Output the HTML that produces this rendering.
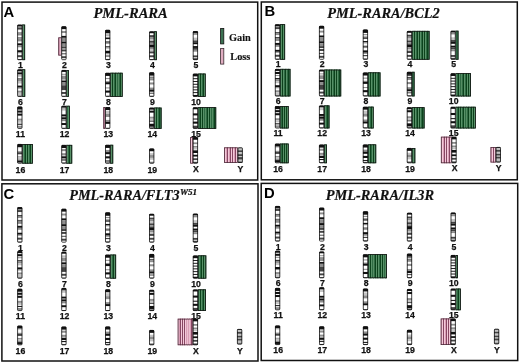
<!DOCTYPE html>
<html><head><meta charset="utf-8"><style>
html,body{margin:0;padding:0;background:#fff;}
svg{display:block;will-change:transform;}
.bd{fill:none;stroke:#111;stroke-width:1.5;}
.lt{font-family:"Liberation Sans",sans-serif;font-weight:bold;font-size:14.8px;fill:#000;}
.tt{font-family:"Liberation Serif",serif;font-weight:bold;font-style:italic;font-size:14.8px;fill:#111;stroke:#111;stroke-width:0.2px;}
.sp{font-size:8.1px;}
.lb{font-family:"Liberation Sans",sans-serif;font-weight:bold;font-size:8.7px;fill:#111;text-anchor:middle;stroke:#111;stroke-width:0.25px;}
.lg{font-family:"Liberation Serif",serif;font-weight:bold;font-size:10.3px;fill:#111;stroke:#111;stroke-width:0.15px;}
</style></head><body>
<svg width="520" height="364" viewBox="0 0 520 364">
<rect width="520" height="364" fill="#fff"/>
<rect x="2" y="2.1" width="255.7" height="177.9" class="bd"/>
<rect x="261.3" y="2" width="256" height="177.8" class="bd"/>
<rect x="1.9" y="183.8" width="256.1" height="177.2" class="bd"/>
<rect x="261.2" y="183.4" width="256.5" height="177.1" class="bd"/>
<text x="3.4" y="16.8" class="lt">A</text>
<text x="264.4" y="16" class="lt">B</text>
<text x="3.6" y="198.5" class="lt">C</text>
<text x="264" y="198" class="lt">D</text>
<text x="93.4" y="18.2" class="tt" textLength="74.4" lengthAdjust="spacingAndGlyphs">PML-RARA</text>
<text x="327.3" y="18.1" class="tt" textLength="112.4" lengthAdjust="spacingAndGlyphs">PML-RARA/BCL2</text>
<text x="69.2" y="200.2" class="tt" textLength="110.4" lengthAdjust="spacingAndGlyphs">PML-RARA/FLT3</text>
<text x="179.9" y="194.6" class="tt sp" textLength="17.2" lengthAdjust="spacingAndGlyphs">W51</text>
<text x="325.7" y="200.1" class="tt" textLength="108.4" lengthAdjust="spacingAndGlyphs">PML-RARA/IL3R</text>
<rect x="22" y="24.6" width="3.1" height="35.5" fill="#2e6b43"/>
<rect x="23" y="24.6" width="0.9" height="35.5" fill="#5e966c"/>
<rect x="22.4" y="25" width="2.3" height="34.7" fill="none" stroke="#141414" stroke-width="0.8"/>
<clipPath id="c1"><rect x="17.2" y="24.6" width="5.2" height="35.5" rx="1.0"/></clipPath>
<g clip-path="url(#c1)">
<rect x="17.2" y="24.6" width="5.2" height="35.5" fill="#fff"/>
<rect x="17.2" y="24.6" width="5.2" height="1.97" fill="#111"/>
<rect x="17.2" y="26.57" width="5.2" height="0.99" fill="#8e8e8e"/>
<rect x="17.2" y="27.56" width="5.2" height="1.97" fill="#444"/>
<rect x="17.2" y="32.49" width="5.2" height="0.99" fill="#444"/>
<rect x="17.2" y="33.48" width="5.2" height="1.97" fill="#8e8e8e"/>
<rect x="17.2" y="37.42" width="5.2" height="0.99" fill="#444"/>
<rect x="17.2" y="38.41" width="5.2" height="2.96" fill="#8e8e8e"/>
<rect x="17.2" y="43.34" width="5.2" height="1.97" fill="#111"/>
<rect x="17.2" y="45.31" width="5.2" height="1.97" fill="#8e8e8e"/>
<rect x="17.2" y="50.24" width="5.2" height="1.97" fill="#111"/>
<rect x="17.2" y="52.21" width="5.2" height="0.99" fill="#8e8e8e"/>
<rect x="17.2" y="55.17" width="5.2" height="1.97" fill="#444"/>
<rect x="17.2" y="59.11" width="5.2" height="0.99" fill="#444"/>
</g>
<rect x="17.6" y="25" width="4.4" height="34.7" rx="0.8" fill="none" stroke="#111" stroke-width="0.8"/>
<text x="20.4" y="67.9" class="lb">1</text>
<rect x="58.3" y="37.39" width="3.4" height="18.14" fill="#d99db5"/>
<rect x="60" y="37.39" width="0.9" height="18.14" fill="#f6cfdd"/>
<rect x="58.7" y="37.79" width="2.6" height="17.34" fill="none" stroke="#4a2a38" stroke-width="0.8"/>
<clipPath id="c2"><rect x="61.3" y="26.2" width="5.2" height="33.9" rx="1.0"/></clipPath>
<g clip-path="url(#c2)">
<rect x="61.3" y="26.2" width="5.2" height="33.9" fill="#fff"/>
<rect x="61.3" y="26.2" width="5.2" height="2.91" fill="#111"/>
<rect x="61.3" y="31.04" width="5.2" height="1.94" fill="#8e8e8e"/>
<rect x="61.3" y="35.89" width="5.2" height="1.94" fill="#111"/>
<rect x="61.3" y="37.82" width="5.2" height="3.87" fill="#8e8e8e"/>
<rect x="61.3" y="41.7" width="5.2" height="1.94" fill="#111"/>
<rect x="61.3" y="43.63" width="5.2" height="2.91" fill="#8e8e8e"/>
<rect x="61.3" y="46.54" width="5.2" height="1.94" fill="#444"/>
<rect x="61.3" y="49.45" width="5.2" height="1.94" fill="#444"/>
<rect x="61.3" y="53.32" width="5.2" height="0.97" fill="#444"/>
<rect x="61.3" y="56.23" width="5.2" height="1.94" fill="#444"/>
</g>
<rect x="61.7" y="26.6" width="4.4" height="33.1" rx="0.8" fill="none" stroke="#111" stroke-width="0.8"/>
<text x="64.5" y="67.9" class="lb">2</text>
<clipPath id="c3"><rect x="105.1" y="29.8" width="5.2" height="30.3" rx="1.0"/></clipPath>
<g clip-path="url(#c3)">
<rect x="105.1" y="29.8" width="5.2" height="30.3" fill="#fff"/>
<rect x="105.1" y="29.8" width="5.2" height="3.5" fill="#111"/>
<rect x="105.1" y="34.46" width="5.2" height="1.17" fill="#8e8e8e"/>
<rect x="105.1" y="36.79" width="5.2" height="1.17" fill="#8e8e8e"/>
<rect x="105.1" y="37.96" width="5.2" height="1.17" fill="#111"/>
<rect x="105.1" y="41.45" width="5.2" height="1.17" fill="#111"/>
<rect x="105.1" y="42.62" width="5.2" height="1.17" fill="#8e8e8e"/>
<rect x="105.1" y="46.12" width="5.2" height="1.17" fill="#444"/>
<rect x="105.1" y="47.28" width="5.2" height="1.17" fill="#8e8e8e"/>
<rect x="105.1" y="50.78" width="5.2" height="2.33" fill="#111"/>
<rect x="105.1" y="53.11" width="5.2" height="1.17" fill="#8e8e8e"/>
<rect x="105.1" y="55.44" width="5.2" height="1.17" fill="#444"/>
<rect x="105.1" y="58.93" width="5.2" height="1.17" fill="#444"/>
</g>
<rect x="105.5" y="30.2" width="4.4" height="29.5" rx="0.8" fill="none" stroke="#111" stroke-width="0.8"/>
<text x="108.3" y="67.9" class="lb">3</text>
<rect x="153.9" y="31.3" width="3" height="28.8" fill="#2e6b43"/>
<rect x="155" y="31.3" width="0.9" height="28.8" fill="#5e966c"/>
<rect x="154.3" y="31.7" width="2.2" height="28" fill="none" stroke="#141414" stroke-width="0.8"/>
<clipPath id="c4"><rect x="149.1" y="31.3" width="5.2" height="28.8" rx="1.0"/></clipPath>
<g clip-path="url(#c4)">
<rect x="149.1" y="31.3" width="5.2" height="28.8" fill="#fff"/>
<rect x="149.1" y="31.3" width="5.2" height="1.92" fill="#111"/>
<rect x="149.1" y="35.14" width="5.2" height="1.92" fill="#444"/>
<rect x="149.1" y="37.06" width="5.2" height="1.92" fill="#8e8e8e"/>
<rect x="149.1" y="38.98" width="5.2" height="1.92" fill="#c4c4c4"/>
<rect x="149.1" y="40.9" width="5.2" height="1.92" fill="#444"/>
<rect x="149.1" y="42.82" width="5.2" height="1.92" fill="#8e8e8e"/>
<rect x="149.1" y="44.74" width="5.2" height="2.88" fill="#111"/>
<rect x="149.1" y="47.62" width="5.2" height="1.92" fill="#8e8e8e"/>
<rect x="149.1" y="49.54" width="5.2" height="1.92" fill="#c4c4c4"/>
<rect x="149.1" y="51.46" width="5.2" height="1.92" fill="#444"/>
<rect x="149.1" y="55.3" width="5.2" height="1.92" fill="#444"/>
<rect x="149.1" y="59.14" width="5.2" height="0.96" fill="#444"/>
</g>
<rect x="149.5" y="31.7" width="4.4" height="28" rx="0.8" fill="none" stroke="#111" stroke-width="0.8"/>
<text x="152.3" y="67.9" class="lb">4</text>
<clipPath id="c5"><rect x="192.8" y="31.1" width="5.2" height="29" rx="1.0"/></clipPath>
<g clip-path="url(#c5)">
<rect x="192.8" y="31.1" width="5.2" height="29" fill="#fff"/>
<rect x="192.8" y="31.1" width="5.2" height="1.87" fill="#111"/>
<rect x="192.8" y="32.97" width="5.2" height="1.87" fill="#8e8e8e"/>
<rect x="192.8" y="37.65" width="5.2" height="2.81" fill="#c4c4c4"/>
<rect x="192.8" y="40.45" width="5.2" height="1.87" fill="#444"/>
<rect x="192.8" y="42.33" width="5.2" height="1.87" fill="#111"/>
<rect x="192.8" y="46.07" width="5.2" height="1.87" fill="#111"/>
<rect x="192.8" y="47.94" width="5.2" height="1.87" fill="#444"/>
<rect x="192.8" y="49.81" width="5.2" height="1.87" fill="#8e8e8e"/>
<rect x="192.8" y="55.42" width="5.2" height="1.87" fill="#444"/>
<rect x="192.8" y="58.23" width="5.2" height="1.87" fill="#444"/>
</g>
<rect x="193.2" y="31.5" width="4.4" height="28.2" rx="0.8" fill="none" stroke="#111" stroke-width="0.8"/>
<text x="196" y="67.9" class="lb">5</text>
<rect x="22" y="69.3" width="3.2" height="27.5" fill="#2e6b43"/>
<rect x="23" y="69.3" width="0.9" height="27.5" fill="#5e966c"/>
<rect x="22.4" y="69.7" width="2.4" height="26.7" fill="none" stroke="#141414" stroke-width="0.8"/>
<clipPath id="c6"><rect x="17.2" y="69.3" width="5.2" height="27.5" rx="1.0"/></clipPath>
<g clip-path="url(#c6)">
<rect x="17.2" y="69.3" width="5.2" height="27.5" fill="#fff"/>
<rect x="17.2" y="69.3" width="5.2" height="2.04" fill="#111"/>
<rect x="17.2" y="72.36" width="5.2" height="2.04" fill="#111"/>
<rect x="17.2" y="75.41" width="5.2" height="1.02" fill="#8e8e8e"/>
<rect x="17.2" y="78.47" width="5.2" height="1.02" fill="#111"/>
<rect x="17.2" y="79.49" width="5.2" height="2.04" fill="#8e8e8e"/>
<rect x="17.2" y="81.52" width="5.2" height="2.04" fill="#c4c4c4"/>
<rect x="17.2" y="85.6" width="5.2" height="2.04" fill="#111"/>
<rect x="17.2" y="87.63" width="5.2" height="1.02" fill="#8e8e8e"/>
<rect x="17.2" y="90.69" width="5.2" height="2.04" fill="#8e8e8e"/>
<rect x="17.2" y="92.73" width="5.2" height="3.06" fill="#c4c4c4"/>
<rect x="17.2" y="95.78" width="5.2" height="1.02" fill="#444"/>
</g>
<rect x="17.6" y="69.7" width="4.4" height="26.7" rx="0.8" fill="none" stroke="#111" stroke-width="0.8"/>
<text x="20.4" y="105.1" class="lb">6</text>
<rect x="66.1" y="70" width="2.8" height="26.8" fill="#2e6b43"/>
<rect x="67" y="70" width="0.9" height="26.8" fill="#5e966c"/>
<rect x="66.5" y="70.4" width="2" height="26" fill="none" stroke="#141414" stroke-width="0.8"/>
<clipPath id="c7"><rect x="61.3" y="70" width="5.2" height="26.8" rx="1.0"/></clipPath>
<g clip-path="url(#c7)">
<rect x="61.3" y="70" width="5.2" height="26.8" fill="#fff"/>
<rect x="61.3" y="70" width="5.2" height="1.91" fill="#111"/>
<rect x="61.3" y="73.83" width="5.2" height="0.96" fill="#8e8e8e"/>
<rect x="61.3" y="75.74" width="5.2" height="3.83" fill="#8e8e8e"/>
<rect x="61.3" y="80.53" width="5.2" height="1.91" fill="#111"/>
<rect x="61.3" y="82.44" width="5.2" height="2.87" fill="#8e8e8e"/>
<rect x="61.3" y="85.31" width="5.2" height="4.79" fill="#444"/>
<rect x="61.3" y="92.01" width="5.2" height="1.91" fill="#444"/>
<rect x="61.3" y="95.84" width="5.2" height="0.96" fill="#444"/>
</g>
<rect x="61.7" y="70.4" width="4.4" height="26" rx="0.8" fill="none" stroke="#111" stroke-width="0.8"/>
<text x="64.5" y="105.1" class="lb">7</text>
<rect x="109.9" y="72.8" width="12.8" height="24" fill="#2e6b43"/>
<rect x="111" y="72.8" width="0.9" height="24" fill="#5e966c"/>
<rect x="112" y="72.8" width="1" height="24" fill="#0c421c"/>
<rect x="113" y="72.8" width="0.9" height="24" fill="#5e966c"/>
<rect x="115" y="72.8" width="1" height="24" fill="#0c421c"/>
<rect x="116" y="72.8" width="0.9" height="24" fill="#5e966c"/>
<rect x="118" y="72.8" width="1" height="24" fill="#0c421c"/>
<rect x="118" y="72.8" width="0.9" height="24" fill="#5e966c"/>
<rect x="120" y="72.8" width="1" height="24" fill="#0c421c"/>
<rect x="121" y="72.8" width="0.9" height="24" fill="#5e966c"/>
<rect x="110.3" y="73.2" width="12" height="23.2" fill="none" stroke="#141414" stroke-width="0.8"/>
<clipPath id="c8"><rect x="105.1" y="72.8" width="5.2" height="24" rx="1.0"/></clipPath>
<g clip-path="url(#c8)">
<rect x="105.1" y="72.8" width="5.2" height="24" fill="#fff"/>
<rect x="105.1" y="72.8" width="5.2" height="3.13" fill="#111"/>
<rect x="105.1" y="78.02" width="5.2" height="1.04" fill="#8e8e8e"/>
<rect x="105.1" y="81.15" width="5.2" height="1.04" fill="#8e8e8e"/>
<rect x="105.1" y="82.19" width="5.2" height="2.09" fill="#111"/>
<rect x="105.1" y="87.41" width="5.2" height="1.04" fill="#8e8e8e"/>
<rect x="105.1" y="90.54" width="5.2" height="2.09" fill="#111"/>
<rect x="105.1" y="95.76" width="5.2" height="1.04" fill="#444"/>
</g>
<rect x="105.5" y="73.2" width="4.4" height="23.2" rx="0.8" fill="none" stroke="#111" stroke-width="0.8"/>
<text x="108.3" y="105.1" class="lb">8</text>
<clipPath id="c9"><rect x="149.1" y="72.2" width="5.2" height="24.6" rx="1.0"/></clipPath>
<g clip-path="url(#c9)">
<rect x="149.1" y="72.2" width="5.2" height="24.6" fill="#fff"/>
<rect x="149.1" y="72.2" width="5.2" height="3.07" fill="#111"/>
<rect x="149.1" y="75.28" width="5.2" height="1.02" fill="#444"/>
<rect x="149.1" y="77.33" width="5.2" height="1.02" fill="#444"/>
<rect x="149.1" y="78.35" width="5.2" height="2.05" fill="#8e8e8e"/>
<rect x="149.1" y="82.45" width="5.2" height="2.05" fill="#8e8e8e"/>
<rect x="149.1" y="87.58" width="5.2" height="2.05" fill="#8e8e8e"/>
<rect x="149.1" y="89.62" width="5.2" height="2.05" fill="#111"/>
<rect x="149.1" y="92.7" width="5.2" height="1.02" fill="#444"/>
<rect x="149.1" y="95.77" width="5.2" height="1.02" fill="#444"/>
</g>
<rect x="149.5" y="72.6" width="4.4" height="23.8" rx="0.8" fill="none" stroke="#111" stroke-width="0.8"/>
<text x="152.3" y="105.1" class="lb">9</text>
<rect x="197.6" y="73.6" width="8.1" height="23.2" fill="#2e6b43"/>
<rect x="199" y="73.6" width="0.9" height="23.2" fill="#5e966c"/>
<rect x="200" y="73.6" width="1" height="23.2" fill="#0c421c"/>
<rect x="201" y="73.6" width="0.9" height="23.2" fill="#5e966c"/>
<rect x="203" y="73.6" width="1" height="23.2" fill="#0c421c"/>
<rect x="204" y="73.6" width="0.9" height="23.2" fill="#5e966c"/>
<rect x="198" y="74" width="7.3" height="22.4" fill="none" stroke="#141414" stroke-width="0.8"/>
<clipPath id="c10"><rect x="192.8" y="73.6" width="5.2" height="23.2" rx="1.0"/></clipPath>
<g clip-path="url(#c10)">
<rect x="192.8" y="73.6" width="5.2" height="23.2" fill="#fff"/>
<rect x="192.8" y="73.6" width="5.2" height="2.78" fill="#111"/>
<rect x="192.8" y="78.24" width="5.2" height="0.93" fill="#111"/>
<rect x="192.8" y="81.02" width="5.2" height="0.93" fill="#111"/>
<rect x="192.8" y="83.81" width="5.2" height="0.93" fill="#111"/>
<rect x="192.8" y="86.59" width="5.2" height="0.93" fill="#111"/>
<rect x="192.8" y="89.38" width="5.2" height="0.93" fill="#111"/>
<rect x="192.8" y="92.16" width="5.2" height="0.93" fill="#111"/>
<rect x="192.8" y="94.94" width="5.2" height="1.86" fill="#111"/>
</g>
<rect x="193.2" y="74" width="4.4" height="22.4" rx="0.8" fill="none" stroke="#111" stroke-width="0.8"/>
<text x="196" y="105.1" class="lb">10</text>
<clipPath id="c11"><rect x="17.2" y="106.5" width="5.2" height="22.3" rx="1.0"/></clipPath>
<g clip-path="url(#c11)">
<rect x="17.2" y="106.5" width="5.2" height="22.3" fill="#fff"/>
<rect x="17.2" y="106.5" width="5.2" height="3.04" fill="#111"/>
<rect x="17.2" y="110.55" width="5.2" height="2.03" fill="#111"/>
<rect x="17.2" y="113.6" width="5.2" height="2.03" fill="#111"/>
<rect x="17.2" y="118.66" width="5.2" height="2.03" fill="#8e8e8e"/>
<rect x="17.2" y="120.69" width="5.2" height="2.03" fill="#c4c4c4"/>
<rect x="17.2" y="123.73" width="5.2" height="1.01" fill="#111"/>
<rect x="17.2" y="125.76" width="5.2" height="2.03" fill="#8e8e8e"/>
<rect x="17.2" y="127.79" width="5.2" height="1.01" fill="#c4c4c4"/>
</g>
<rect x="17.6" y="106.9" width="4.4" height="21.5" rx="0.8" fill="none" stroke="#111" stroke-width="0.8"/>
<text x="20.4" y="137.3" class="lb">11</text>
<rect x="66.1" y="105.8" width="3.7" height="23" fill="#2e6b43"/>
<rect x="68" y="105.8" width="0.9" height="23" fill="#5e966c"/>
<rect x="66.5" y="106.2" width="2.9" height="22.2" fill="none" stroke="#141414" stroke-width="0.8"/>
<clipPath id="c12"><rect x="61.3" y="105.8" width="5.2" height="23" rx="1.0"/></clipPath>
<g clip-path="url(#c12)">
<rect x="61.3" y="105.8" width="5.2" height="23" fill="#fff"/>
<rect x="61.3" y="105.8" width="5.2" height="1.92" fill="#111"/>
<rect x="61.3" y="107.72" width="5.2" height="0.96" fill="#8e8e8e"/>
<rect x="61.3" y="108.67" width="5.2" height="1.92" fill="#c4c4c4"/>
<rect x="61.3" y="114.42" width="5.2" height="1.92" fill="#111"/>
<rect x="61.3" y="116.34" width="5.2" height="0.96" fill="#8e8e8e"/>
<rect x="61.3" y="117.3" width="5.2" height="1.92" fill="#111"/>
<rect x="61.3" y="119.22" width="5.2" height="1.92" fill="#8e8e8e"/>
<rect x="61.3" y="123.05" width="5.2" height="1.92" fill="#111"/>
<rect x="61.3" y="127.84" width="5.2" height="0.96" fill="#444"/>
</g>
<rect x="61.7" y="106.2" width="4.4" height="22.2" rx="0.8" fill="none" stroke="#111" stroke-width="0.8"/>
<text x="64.5" y="137.3" class="lb">12</text>
<rect x="103.3" y="107.1" width="2.2" height="21.7" fill="#d99db5"/>
<rect x="103.7" y="107.5" width="1.4" height="20.9" fill="none" stroke="#4a2a38" stroke-width="0.8"/>
<clipPath id="c13"><rect x="105.1" y="107.1" width="5.2" height="21.7" rx="1.0"/></clipPath>
<g clip-path="url(#c13)">
<rect x="105.1" y="107.1" width="5.2" height="21.7" fill="#fff"/>
<rect x="105.1" y="107.1" width="5.2" height="2.96" fill="#111"/>
<rect x="105.1" y="111.05" width="5.2" height="2.96" fill="#c4c4c4"/>
<rect x="105.1" y="114" width="5.2" height="2.96" fill="#8e8e8e"/>
<rect x="105.1" y="119.92" width="5.2" height="1.97" fill="#8e8e8e"/>
<rect x="105.1" y="121.9" width="5.2" height="1.97" fill="#111"/>
<rect x="105.1" y="127.81" width="5.2" height="0.99" fill="#444"/>
</g>
<rect x="105.5" y="107.5" width="4.4" height="20.9" rx="0.8" fill="none" stroke="#111" stroke-width="0.8"/>
<text x="108.3" y="137.3" class="lb">13</text>
<rect x="153.9" y="107.6" width="7.7" height="21.2" fill="#2e6b43"/>
<rect x="155" y="107.6" width="0.9" height="21.2" fill="#5e966c"/>
<rect x="156" y="107.6" width="1" height="21.2" fill="#0c421c"/>
<rect x="157" y="107.6" width="0.9" height="21.2" fill="#5e966c"/>
<rect x="159" y="107.6" width="1" height="21.2" fill="#0c421c"/>
<rect x="154.3" y="108" width="6.9" height="20.4" fill="none" stroke="#141414" stroke-width="0.8"/>
<clipPath id="c14"><rect x="149.1" y="107.6" width="5.2" height="21.2" rx="1.0"/></clipPath>
<g clip-path="url(#c14)">
<rect x="149.1" y="107.6" width="5.2" height="21.2" fill="#fff"/>
<rect x="149.1" y="107.6" width="5.2" height="2.02" fill="#111"/>
<rect x="149.1" y="110.63" width="5.2" height="2.02" fill="#111"/>
<rect x="149.1" y="116.69" width="5.2" height="2.02" fill="#8e8e8e"/>
<rect x="149.1" y="118.7" width="5.2" height="2.02" fill="#c4c4c4"/>
<rect x="149.1" y="120.72" width="5.2" height="1.01" fill="#444"/>
<rect x="149.1" y="123.75" width="5.2" height="3.03" fill="#111"/>
<rect x="149.1" y="126.78" width="5.2" height="1.01" fill="#8e8e8e"/>
<rect x="149.1" y="127.79" width="5.2" height="1.01" fill="#444"/>
</g>
<rect x="149.5" y="108" width="4.4" height="20.4" rx="0.8" fill="none" stroke="#111" stroke-width="0.8"/>
<text x="152.3" y="137.3" class="lb">14</text>
<rect x="197.6" y="107.2" width="18.6" height="21.6" fill="#2e6b43"/>
<rect x="198" y="107.2" width="0.9" height="21.6" fill="#5e966c"/>
<rect x="200" y="107.2" width="1" height="21.6" fill="#0c421c"/>
<rect x="201" y="107.2" width="0.9" height="21.6" fill="#5e966c"/>
<rect x="202" y="107.2" width="1" height="21.6" fill="#0c421c"/>
<rect x="203" y="107.2" width="0.9" height="21.6" fill="#5e966c"/>
<rect x="205" y="107.2" width="1" height="21.6" fill="#0c421c"/>
<rect x="205" y="107.2" width="0.9" height="21.6" fill="#5e966c"/>
<rect x="207" y="107.2" width="1" height="21.6" fill="#0c421c"/>
<rect x="208" y="107.2" width="0.9" height="21.6" fill="#5e966c"/>
<rect x="209" y="107.2" width="1" height="21.6" fill="#0c421c"/>
<rect x="210" y="107.2" width="0.9" height="21.6" fill="#5e966c"/>
<rect x="212" y="107.2" width="1" height="21.6" fill="#0c421c"/>
<rect x="212" y="107.2" width="0.9" height="21.6" fill="#5e966c"/>
<rect x="214" y="107.2" width="1" height="21.6" fill="#0c421c"/>
<rect x="198" y="107.6" width="17.8" height="20.8" fill="none" stroke="#141414" stroke-width="0.8"/>
<clipPath id="c15"><rect x="192.8" y="107.2" width="5.2" height="21.6" rx="1.0"/></clipPath>
<g clip-path="url(#c15)">
<rect x="192.8" y="107.2" width="5.2" height="21.6" fill="#fff"/>
<rect x="192.8" y="107.2" width="5.2" height="2.06" fill="#111"/>
<rect x="192.8" y="113.37" width="5.2" height="2.06" fill="#111"/>
<rect x="192.8" y="118.51" width="5.2" height="1.03" fill="#111"/>
<rect x="192.8" y="121.6" width="5.2" height="2.06" fill="#111"/>
<rect x="192.8" y="125.71" width="5.2" height="3.09" fill="#444"/>
</g>
<rect x="193.2" y="107.6" width="4.4" height="20.8" rx="0.8" fill="none" stroke="#111" stroke-width="0.8"/>
<text x="196" y="137.3" class="lb">15</text>
<rect x="22" y="144" width="10.9" height="19.6" fill="#2e6b43"/>
<rect x="23" y="144" width="0.9" height="19.6" fill="#5e966c"/>
<rect x="25" y="144" width="1" height="19.6" fill="#0c421c"/>
<rect x="26" y="144" width="0.9" height="19.6" fill="#5e966c"/>
<rect x="27" y="144" width="1" height="19.6" fill="#0c421c"/>
<rect x="28" y="144" width="0.9" height="19.6" fill="#5e966c"/>
<rect x="30" y="144" width="1" height="19.6" fill="#0c421c"/>
<rect x="31" y="144" width="0.9" height="19.6" fill="#5e966c"/>
<rect x="22.4" y="144.4" width="10.1" height="18.8" fill="none" stroke="#141414" stroke-width="0.8"/>
<clipPath id="c16"><rect x="17.2" y="144" width="5.2" height="19.6" rx="1.0"/></clipPath>
<g clip-path="url(#c16)">
<rect x="17.2" y="144" width="5.2" height="19.6" fill="#fff"/>
<rect x="17.2" y="144" width="5.2" height="3.09" fill="#111"/>
<rect x="17.2" y="147.09" width="5.2" height="1.03" fill="#c4c4c4"/>
<rect x="17.2" y="151.22" width="5.2" height="1.03" fill="#8e8e8e"/>
<rect x="17.2" y="152.25" width="5.2" height="2.06" fill="#444"/>
<rect x="17.2" y="156.38" width="5.2" height="1.03" fill="#8e8e8e"/>
<rect x="17.2" y="157.41" width="5.2" height="2.06" fill="#c4c4c4"/>
<rect x="17.2" y="159.47" width="5.2" height="1.03" fill="#8e8e8e"/>
<rect x="17.2" y="160.51" width="5.2" height="2.06" fill="#111"/>
<rect x="17.2" y="162.57" width="5.2" height="1.03" fill="#8e8e8e"/>
</g>
<rect x="17.6" y="144.4" width="4.4" height="18.8" rx="0.8" fill="none" stroke="#111" stroke-width="0.8"/>
<text x="20.4" y="172.8" class="lb">16</text>
<rect x="66.1" y="144.9" width="6.1" height="18.7" fill="#2e6b43"/>
<rect x="67" y="144.9" width="0.9" height="18.7" fill="#5e966c"/>
<rect x="69" y="144.9" width="1" height="18.7" fill="#0c421c"/>
<rect x="70" y="144.9" width="0.9" height="18.7" fill="#5e966c"/>
<rect x="66.5" y="145.3" width="5.3" height="17.9" fill="none" stroke="#141414" stroke-width="0.8"/>
<clipPath id="c17"><rect x="61.3" y="144.9" width="5.2" height="18.7" rx="1.0"/></clipPath>
<g clip-path="url(#c17)">
<rect x="61.3" y="144.9" width="5.2" height="18.7" fill="#fff"/>
<rect x="61.3" y="144.9" width="5.2" height="3.12" fill="#111"/>
<rect x="61.3" y="149.06" width="5.2" height="2.08" fill="#8e8e8e"/>
<rect x="61.3" y="153.21" width="5.2" height="2.08" fill="#8e8e8e"/>
<rect x="61.3" y="155.29" width="5.2" height="1.04" fill="#c4c4c4"/>
<rect x="61.3" y="156.33" width="5.2" height="2.08" fill="#111"/>
<rect x="61.3" y="159.44" width="5.2" height="1.04" fill="#111"/>
<rect x="61.3" y="162.56" width="5.2" height="1.04" fill="#444"/>
</g>
<rect x="61.7" y="145.3" width="4.4" height="17.9" rx="0.8" fill="none" stroke="#111" stroke-width="0.8"/>
<text x="64.5" y="172.8" class="lb">17</text>
<rect x="109.9" y="144.8" width="3.3" height="18.8" fill="#2e6b43"/>
<rect x="111" y="144.8" width="0.9" height="18.8" fill="#5e966c"/>
<rect x="110.3" y="145.2" width="2.5" height="18" fill="none" stroke="#141414" stroke-width="0.8"/>
<clipPath id="c18"><rect x="105.1" y="144.8" width="5.2" height="18.8" rx="1.0"/></clipPath>
<g clip-path="url(#c18)">
<rect x="105.1" y="144.8" width="5.2" height="18.8" fill="#fff"/>
<rect x="105.1" y="144.8" width="5.2" height="3.13" fill="#111"/>
<rect x="105.1" y="150.02" width="5.2" height="2.09" fill="#8e8e8e"/>
<rect x="105.1" y="152.11" width="5.2" height="2.09" fill="#111"/>
<rect x="105.1" y="156.29" width="5.2" height="2.09" fill="#111"/>
<rect x="105.1" y="160.47" width="5.2" height="1.04" fill="#111"/>
<rect x="105.1" y="162.56" width="5.2" height="1.04" fill="#444"/>
</g>
<rect x="105.5" y="145.2" width="4.4" height="18" rx="0.8" fill="none" stroke="#111" stroke-width="0.8"/>
<text x="108.3" y="172.8" class="lb">18</text>
<clipPath id="c19"><rect x="149.1" y="148.4" width="5.2" height="15.2" rx="1.0"/></clipPath>
<g clip-path="url(#c19)">
<rect x="149.1" y="148.4" width="5.2" height="15.2" fill="#fff"/>
<rect x="149.1" y="148.4" width="5.2" height="2.85" fill="#111"/>
<rect x="149.1" y="153.15" width="5.2" height="1.9" fill="#c4c4c4"/>
<rect x="149.1" y="155.05" width="5.2" height="2.85" fill="#8e8e8e"/>
<rect x="149.1" y="157.9" width="5.2" height="1.9" fill="#c4c4c4"/>
<rect x="149.1" y="161.7" width="5.2" height="0.95" fill="#8e8e8e"/>
<rect x="149.1" y="162.65" width="5.2" height="0.95" fill="#444"/>
</g>
<rect x="149.5" y="148.8" width="4.4" height="14.4" rx="0.8" fill="none" stroke="#111" stroke-width="0.8"/>
<text x="152.3" y="172.8" class="lb">19</text>
<rect x="190.2" y="137.1" width="3" height="26.5" fill="#d99db5"/>
<rect x="191" y="137.1" width="0.9" height="26.5" fill="#f6cfdd"/>
<rect x="190.6" y="137.5" width="2.2" height="25.7" fill="none" stroke="#4a2a38" stroke-width="0.8"/>
<clipPath id="c20"><rect x="192.8" y="137.1" width="5.2" height="26.5" rx="1.0"/></clipPath>
<g clip-path="url(#c20)">
<rect x="192.8" y="137.1" width="5.2" height="26.5" fill="#fff"/>
<rect x="192.8" y="137.1" width="5.2" height="2.65" fill="#111"/>
<rect x="192.8" y="142.4" width="5.2" height="1.77" fill="#8e8e8e"/>
<rect x="192.8" y="145.93" width="5.2" height="1.77" fill="#8e8e8e"/>
<rect x="192.8" y="147.7" width="5.2" height="1.77" fill="#c4c4c4"/>
<rect x="192.8" y="150.35" width="5.2" height="2.65" fill="#111"/>
<rect x="192.8" y="154.77" width="5.2" height="1.77" fill="#111"/>
<rect x="192.8" y="158.3" width="5.2" height="1.77" fill="#444"/>
<rect x="192.8" y="161.83" width="5.2" height="1.77" fill="#444"/>
</g>
<rect x="193.2" y="137.5" width="4.4" height="25.7" rx="0.8" fill="none" stroke="#111" stroke-width="0.8"/>
<text x="196" y="172.2" class="lb">X</text>
<rect x="224" y="147.4" width="14" height="15.5" fill="#d99db5"/>
<rect x="225" y="147.4" width="0.9" height="15.5" fill="#f6cfdd"/>
<rect x="227" y="147.4" width="1" height="15.5" fill="#874763"/>
<rect x="228" y="147.4" width="0.9" height="15.5" fill="#f6cfdd"/>
<rect x="230" y="147.4" width="1" height="15.5" fill="#874763"/>
<rect x="231" y="147.4" width="0.9" height="15.5" fill="#f6cfdd"/>
<rect x="232" y="147.4" width="1" height="15.5" fill="#874763"/>
<rect x="233" y="147.4" width="0.9" height="15.5" fill="#f6cfdd"/>
<rect x="235" y="147.4" width="1" height="15.5" fill="#874763"/>
<rect x="236" y="147.4" width="0.9" height="15.5" fill="#f6cfdd"/>
<rect x="224.4" y="147.8" width="13.2" height="14.7" fill="none" stroke="#4a2a38" stroke-width="0.8"/>
<clipPath id="c21"><rect x="237.6" y="147.4" width="5.2" height="15.5" rx="1.0"/></clipPath>
<g clip-path="url(#c21)">
<rect x="237.6" y="147.4" width="5.2" height="15.5" fill="#fff"/>
<rect x="237.6" y="147.4" width="5.2" height="0.97" fill="#444"/>
<rect x="237.6" y="148.37" width="5.2" height="1.94" fill="#c4c4c4"/>
<rect x="237.6" y="150.31" width="5.2" height="1.94" fill="#444"/>
<rect x="237.6" y="152.24" width="5.2" height="1.94" fill="#c4c4c4"/>
<rect x="237.6" y="154.18" width="5.2" height="1.94" fill="#444"/>
<rect x="237.6" y="156.12" width="5.2" height="0.97" fill="#c4c4c4"/>
<rect x="237.6" y="157.09" width="5.2" height="1.94" fill="#444"/>
<rect x="237.6" y="159.03" width="5.2" height="0.97" fill="#8e8e8e"/>
<rect x="237.6" y="159.99" width="5.2" height="0.97" fill="#c4c4c4"/>
<rect x="237.6" y="160.96" width="5.2" height="0.97" fill="#8e8e8e"/>
<rect x="237.6" y="161.93" width="5.2" height="0.97" fill="#444"/>
</g>
<rect x="238" y="147.8" width="4.4" height="14.7" rx="0.8" fill="none" stroke="#111" stroke-width="0.8"/>
<text x="240.5" y="172.2" class="lb">Y</text>
<rect x="279.7" y="24.2" width="5.4" height="35.5" fill="#2e6b43"/>
<rect x="281" y="24.2" width="0.9" height="35.5" fill="#5e966c"/>
<rect x="282" y="24.2" width="1" height="35.5" fill="#0c421c"/>
<rect x="283" y="24.2" width="0.9" height="35.5" fill="#5e966c"/>
<rect x="280.1" y="24.6" width="4.6" height="34.7" fill="none" stroke="#141414" stroke-width="0.8"/>
<clipPath id="c22"><rect x="274.9" y="24.2" width="5.2" height="35.5" rx="1.0"/></clipPath>
<g clip-path="url(#c22)">
<rect x="274.9" y="24.2" width="5.2" height="35.5" fill="#fff"/>
<rect x="274.9" y="24.2" width="5.2" height="1.97" fill="#111"/>
<rect x="274.9" y="26.17" width="5.2" height="0.99" fill="#8e8e8e"/>
<rect x="274.9" y="27.16" width="5.2" height="1.97" fill="#444"/>
<rect x="274.9" y="32.09" width="5.2" height="0.99" fill="#444"/>
<rect x="274.9" y="33.08" width="5.2" height="1.97" fill="#8e8e8e"/>
<rect x="274.9" y="37.02" width="5.2" height="0.99" fill="#444"/>
<rect x="274.9" y="38.01" width="5.2" height="2.96" fill="#8e8e8e"/>
<rect x="274.9" y="42.94" width="5.2" height="1.97" fill="#111"/>
<rect x="274.9" y="44.91" width="5.2" height="1.97" fill="#8e8e8e"/>
<rect x="274.9" y="49.84" width="5.2" height="1.97" fill="#111"/>
<rect x="274.9" y="51.81" width="5.2" height="0.99" fill="#8e8e8e"/>
<rect x="274.9" y="54.77" width="5.2" height="1.97" fill="#444"/>
<rect x="274.9" y="58.71" width="5.2" height="0.99" fill="#444"/>
</g>
<rect x="275.3" y="24.6" width="4.4" height="34.7" rx="0.8" fill="none" stroke="#111" stroke-width="0.8"/>
<text x="278.1" y="67.2" class="lb">1</text>
<clipPath id="c23"><rect x="319" y="25.8" width="5.2" height="33.9" rx="1.0"/></clipPath>
<g clip-path="url(#c23)">
<rect x="319" y="25.8" width="5.2" height="33.9" fill="#fff"/>
<rect x="319" y="25.8" width="5.2" height="2.91" fill="#111"/>
<rect x="319" y="30.64" width="5.2" height="1.94" fill="#8e8e8e"/>
<rect x="319" y="35.49" width="5.2" height="1.94" fill="#111"/>
<rect x="319" y="37.42" width="5.2" height="3.87" fill="#8e8e8e"/>
<rect x="319" y="41.3" width="5.2" height="1.94" fill="#111"/>
<rect x="319" y="43.23" width="5.2" height="2.91" fill="#8e8e8e"/>
<rect x="319" y="46.14" width="5.2" height="1.94" fill="#444"/>
<rect x="319" y="49.05" width="5.2" height="1.94" fill="#444"/>
<rect x="319" y="52.92" width="5.2" height="0.97" fill="#444"/>
<rect x="319" y="55.83" width="5.2" height="1.94" fill="#444"/>
</g>
<rect x="319.4" y="26.2" width="4.4" height="33.1" rx="0.8" fill="none" stroke="#111" stroke-width="0.8"/>
<text x="322.2" y="67.2" class="lb">2</text>
<clipPath id="c24"><rect x="362.8" y="29.4" width="5.2" height="30.3" rx="1.0"/></clipPath>
<g clip-path="url(#c24)">
<rect x="362.8" y="29.4" width="5.2" height="30.3" fill="#fff"/>
<rect x="362.8" y="29.4" width="5.2" height="3.5" fill="#111"/>
<rect x="362.8" y="34.06" width="5.2" height="1.17" fill="#8e8e8e"/>
<rect x="362.8" y="36.39" width="5.2" height="1.17" fill="#8e8e8e"/>
<rect x="362.8" y="37.56" width="5.2" height="1.17" fill="#111"/>
<rect x="362.8" y="41.05" width="5.2" height="1.17" fill="#111"/>
<rect x="362.8" y="42.22" width="5.2" height="1.17" fill="#8e8e8e"/>
<rect x="362.8" y="45.72" width="5.2" height="1.17" fill="#444"/>
<rect x="362.8" y="46.88" width="5.2" height="1.17" fill="#8e8e8e"/>
<rect x="362.8" y="50.38" width="5.2" height="2.33" fill="#111"/>
<rect x="362.8" y="52.71" width="5.2" height="1.17" fill="#8e8e8e"/>
<rect x="362.8" y="55.04" width="5.2" height="1.17" fill="#444"/>
<rect x="362.8" y="58.53" width="5.2" height="1.17" fill="#444"/>
</g>
<rect x="363.2" y="29.8" width="4.4" height="29.5" rx="0.8" fill="none" stroke="#111" stroke-width="0.8"/>
<text x="366" y="67.2" class="lb">3</text>
<rect x="411.6" y="30.9" width="18" height="28.8" fill="#2e6b43"/>
<rect x="413" y="30.9" width="0.9" height="28.8" fill="#5e966c"/>
<rect x="414" y="30.9" width="1" height="28.8" fill="#0c421c"/>
<rect x="415" y="30.9" width="0.9" height="28.8" fill="#5e966c"/>
<rect x="417" y="30.9" width="1" height="28.8" fill="#0c421c"/>
<rect x="418" y="30.9" width="0.9" height="28.8" fill="#5e966c"/>
<rect x="419" y="30.9" width="1" height="28.8" fill="#0c421c"/>
<rect x="420" y="30.9" width="0.9" height="28.8" fill="#5e966c"/>
<rect x="422" y="30.9" width="1" height="28.8" fill="#0c421c"/>
<rect x="423" y="30.9" width="0.9" height="28.8" fill="#5e966c"/>
<rect x="424" y="30.9" width="1" height="28.8" fill="#0c421c"/>
<rect x="425" y="30.9" width="0.9" height="28.8" fill="#5e966c"/>
<rect x="427" y="30.9" width="1" height="28.8" fill="#0c421c"/>
<rect x="412" y="31.3" width="17.2" height="28" fill="none" stroke="#141414" stroke-width="0.8"/>
<clipPath id="c25"><rect x="406.8" y="30.9" width="5.2" height="28.8" rx="1.0"/></clipPath>
<g clip-path="url(#c25)">
<rect x="406.8" y="30.9" width="5.2" height="28.8" fill="#fff"/>
<rect x="406.8" y="30.9" width="5.2" height="1.92" fill="#111"/>
<rect x="406.8" y="34.74" width="5.2" height="1.92" fill="#444"/>
<rect x="406.8" y="36.66" width="5.2" height="1.92" fill="#8e8e8e"/>
<rect x="406.8" y="38.58" width="5.2" height="1.92" fill="#c4c4c4"/>
<rect x="406.8" y="40.5" width="5.2" height="1.92" fill="#444"/>
<rect x="406.8" y="42.42" width="5.2" height="1.92" fill="#8e8e8e"/>
<rect x="406.8" y="44.34" width="5.2" height="2.88" fill="#111"/>
<rect x="406.8" y="47.22" width="5.2" height="1.92" fill="#8e8e8e"/>
<rect x="406.8" y="49.14" width="5.2" height="1.92" fill="#c4c4c4"/>
<rect x="406.8" y="51.06" width="5.2" height="1.92" fill="#444"/>
<rect x="406.8" y="54.9" width="5.2" height="1.92" fill="#444"/>
<rect x="406.8" y="58.74" width="5.2" height="0.96" fill="#444"/>
</g>
<rect x="407.2" y="31.3" width="4.4" height="28" rx="0.8" fill="none" stroke="#111" stroke-width="0.8"/>
<text x="410" y="67.2" class="lb">4</text>
<rect x="455.3" y="30.7" width="3.2" height="29" fill="#2e6b43"/>
<rect x="455.7" y="31.1" width="2.4" height="28.2" fill="none" stroke="#141414" stroke-width="0.8"/>
<clipPath id="c26"><rect x="450.5" y="30.7" width="5.2" height="29" rx="1.0"/></clipPath>
<g clip-path="url(#c26)">
<rect x="450.5" y="30.7" width="5.2" height="29" fill="#fff"/>
<rect x="450.5" y="30.7" width="5.2" height="1.87" fill="#111"/>
<rect x="450.5" y="32.57" width="5.2" height="1.87" fill="#8e8e8e"/>
<rect x="450.5" y="37.25" width="5.2" height="2.81" fill="#c4c4c4"/>
<rect x="450.5" y="40.05" width="5.2" height="1.87" fill="#444"/>
<rect x="450.5" y="41.93" width="5.2" height="1.87" fill="#111"/>
<rect x="450.5" y="45.67" width="5.2" height="1.87" fill="#111"/>
<rect x="450.5" y="47.54" width="5.2" height="1.87" fill="#444"/>
<rect x="450.5" y="49.41" width="5.2" height="1.87" fill="#8e8e8e"/>
<rect x="450.5" y="55.02" width="5.2" height="1.87" fill="#444"/>
<rect x="450.5" y="57.83" width="5.2" height="1.87" fill="#444"/>
</g>
<rect x="450.9" y="31.1" width="4.4" height="28.2" rx="0.8" fill="none" stroke="#111" stroke-width="0.8"/>
<text x="453.7" y="67.2" class="lb">5</text>
<rect x="279.7" y="68.9" width="10.8" height="27.5" fill="#2e6b43"/>
<rect x="281" y="68.9" width="0.9" height="27.5" fill="#5e966c"/>
<rect x="282" y="68.9" width="1" height="27.5" fill="#0c421c"/>
<rect x="283" y="68.9" width="0.9" height="27.5" fill="#5e966c"/>
<rect x="285" y="68.9" width="1" height="27.5" fill="#0c421c"/>
<rect x="286" y="68.9" width="0.9" height="27.5" fill="#5e966c"/>
<rect x="288" y="68.9" width="1" height="27.5" fill="#0c421c"/>
<rect x="280.1" y="69.3" width="10" height="26.7" fill="none" stroke="#141414" stroke-width="0.8"/>
<clipPath id="c27"><rect x="274.9" y="68.9" width="5.2" height="27.5" rx="1.0"/></clipPath>
<g clip-path="url(#c27)">
<rect x="274.9" y="68.9" width="5.2" height="27.5" fill="#fff"/>
<rect x="274.9" y="68.9" width="5.2" height="2.04" fill="#111"/>
<rect x="274.9" y="71.96" width="5.2" height="2.04" fill="#111"/>
<rect x="274.9" y="75.01" width="5.2" height="1.02" fill="#8e8e8e"/>
<rect x="274.9" y="78.07" width="5.2" height="1.02" fill="#111"/>
<rect x="274.9" y="79.09" width="5.2" height="2.04" fill="#8e8e8e"/>
<rect x="274.9" y="81.12" width="5.2" height="2.04" fill="#c4c4c4"/>
<rect x="274.9" y="85.2" width="5.2" height="2.04" fill="#111"/>
<rect x="274.9" y="87.23" width="5.2" height="1.02" fill="#8e8e8e"/>
<rect x="274.9" y="90.29" width="5.2" height="2.04" fill="#8e8e8e"/>
<rect x="274.9" y="92.33" width="5.2" height="3.06" fill="#c4c4c4"/>
<rect x="274.9" y="95.38" width="5.2" height="1.02" fill="#444"/>
</g>
<rect x="275.3" y="69.3" width="4.4" height="26.7" rx="0.8" fill="none" stroke="#111" stroke-width="0.8"/>
<text x="278.1" y="103.8" class="lb">6</text>
<rect x="323.8" y="69.6" width="17.4" height="26.8" fill="#2e6b43"/>
<rect x="325" y="69.6" width="0.9" height="26.8" fill="#5e966c"/>
<rect x="326" y="69.6" width="1" height="26.8" fill="#0c421c"/>
<rect x="327" y="69.6" width="0.9" height="26.8" fill="#5e966c"/>
<rect x="329" y="69.6" width="1" height="26.8" fill="#0c421c"/>
<rect x="330" y="69.6" width="0.9" height="26.8" fill="#5e966c"/>
<rect x="331" y="69.6" width="1" height="26.8" fill="#0c421c"/>
<rect x="332" y="69.6" width="0.9" height="26.8" fill="#5e966c"/>
<rect x="334" y="69.6" width="1" height="26.8" fill="#0c421c"/>
<rect x="335" y="69.6" width="0.9" height="26.8" fill="#5e966c"/>
<rect x="336" y="69.6" width="1" height="26.8" fill="#0c421c"/>
<rect x="337" y="69.6" width="0.9" height="26.8" fill="#5e966c"/>
<rect x="339" y="69.6" width="1" height="26.8" fill="#0c421c"/>
<rect x="324.2" y="70" width="16.6" height="26" fill="none" stroke="#141414" stroke-width="0.8"/>
<clipPath id="c28"><rect x="319" y="69.6" width="5.2" height="26.8" rx="1.0"/></clipPath>
<g clip-path="url(#c28)">
<rect x="319" y="69.6" width="5.2" height="26.8" fill="#fff"/>
<rect x="319" y="69.6" width="5.2" height="1.91" fill="#111"/>
<rect x="319" y="73.43" width="5.2" height="0.96" fill="#8e8e8e"/>
<rect x="319" y="75.34" width="5.2" height="3.83" fill="#8e8e8e"/>
<rect x="319" y="80.13" width="5.2" height="1.91" fill="#111"/>
<rect x="319" y="82.04" width="5.2" height="2.87" fill="#8e8e8e"/>
<rect x="319" y="84.91" width="5.2" height="4.79" fill="#444"/>
<rect x="319" y="91.61" width="5.2" height="1.91" fill="#444"/>
<rect x="319" y="95.44" width="5.2" height="0.96" fill="#444"/>
</g>
<rect x="319.4" y="70" width="4.4" height="26" rx="0.8" fill="none" stroke="#111" stroke-width="0.8"/>
<text x="322.2" y="103.8" class="lb">7</text>
<rect x="367.6" y="72.4" width="12.9" height="24" fill="#2e6b43"/>
<rect x="369" y="72.4" width="0.9" height="24" fill="#5e966c"/>
<rect x="370" y="72.4" width="1" height="24" fill="#0c421c"/>
<rect x="371" y="72.4" width="0.9" height="24" fill="#5e966c"/>
<rect x="373" y="72.4" width="1" height="24" fill="#0c421c"/>
<rect x="374" y="72.4" width="0.9" height="24" fill="#5e966c"/>
<rect x="375" y="72.4" width="1" height="24" fill="#0c421c"/>
<rect x="376" y="72.4" width="0.9" height="24" fill="#5e966c"/>
<rect x="378" y="72.4" width="1" height="24" fill="#0c421c"/>
<rect x="368" y="72.8" width="12.1" height="23.2" fill="none" stroke="#141414" stroke-width="0.8"/>
<clipPath id="c29"><rect x="362.8" y="72.4" width="5.2" height="24" rx="1.0"/></clipPath>
<g clip-path="url(#c29)">
<rect x="362.8" y="72.4" width="5.2" height="24" fill="#fff"/>
<rect x="362.8" y="72.4" width="5.2" height="3.13" fill="#111"/>
<rect x="362.8" y="77.62" width="5.2" height="1.04" fill="#8e8e8e"/>
<rect x="362.8" y="80.75" width="5.2" height="1.04" fill="#8e8e8e"/>
<rect x="362.8" y="81.79" width="5.2" height="2.09" fill="#111"/>
<rect x="362.8" y="87.01" width="5.2" height="1.04" fill="#8e8e8e"/>
<rect x="362.8" y="90.14" width="5.2" height="2.09" fill="#111"/>
<rect x="362.8" y="95.36" width="5.2" height="1.04" fill="#444"/>
</g>
<rect x="363.2" y="72.8" width="4.4" height="23.2" rx="0.8" fill="none" stroke="#111" stroke-width="0.8"/>
<text x="366" y="103.8" class="lb">8</text>
<rect x="411.6" y="71.8" width="3" height="24.6" fill="#2e6b43"/>
<rect x="412" y="72.2" width="2.2" height="23.8" fill="none" stroke="#141414" stroke-width="0.8"/>
<clipPath id="c30"><rect x="406.8" y="71.8" width="5.2" height="24.6" rx="1.0"/></clipPath>
<g clip-path="url(#c30)">
<rect x="406.8" y="71.8" width="5.2" height="24.6" fill="#fff"/>
<rect x="406.8" y="71.8" width="5.2" height="3.07" fill="#111"/>
<rect x="406.8" y="74.88" width="5.2" height="1.02" fill="#444"/>
<rect x="406.8" y="76.92" width="5.2" height="1.02" fill="#444"/>
<rect x="406.8" y="77.95" width="5.2" height="2.05" fill="#8e8e8e"/>
<rect x="406.8" y="82.05" width="5.2" height="2.05" fill="#8e8e8e"/>
<rect x="406.8" y="87.17" width="5.2" height="2.05" fill="#8e8e8e"/>
<rect x="406.8" y="89.22" width="5.2" height="2.05" fill="#111"/>
<rect x="406.8" y="92.3" width="5.2" height="1.02" fill="#444"/>
<rect x="406.8" y="95.37" width="5.2" height="1.02" fill="#444"/>
</g>
<rect x="407.2" y="72.2" width="4.4" height="23.8" rx="0.8" fill="none" stroke="#111" stroke-width="0.8"/>
<text x="410" y="103.8" class="lb">9</text>
<rect x="455.3" y="73.2" width="15.7" height="23.2" fill="#2e6b43"/>
<rect x="456" y="73.2" width="0.9" height="23.2" fill="#5e966c"/>
<rect x="458" y="73.2" width="1" height="23.2" fill="#0c421c"/>
<rect x="459" y="73.2" width="0.9" height="23.2" fill="#5e966c"/>
<rect x="461" y="73.2" width="1" height="23.2" fill="#0c421c"/>
<rect x="461" y="73.2" width="0.9" height="23.2" fill="#5e966c"/>
<rect x="463" y="73.2" width="1" height="23.2" fill="#0c421c"/>
<rect x="464" y="73.2" width="0.9" height="23.2" fill="#5e966c"/>
<rect x="466" y="73.2" width="1" height="23.2" fill="#0c421c"/>
<rect x="467" y="73.2" width="0.9" height="23.2" fill="#5e966c"/>
<rect x="468" y="73.2" width="1" height="23.2" fill="#0c421c"/>
<rect x="469" y="73.2" width="0.9" height="23.2" fill="#5e966c"/>
<rect x="455.7" y="73.6" width="14.9" height="22.4" fill="none" stroke="#141414" stroke-width="0.8"/>
<clipPath id="c31"><rect x="450.5" y="73.2" width="5.2" height="23.2" rx="1.0"/></clipPath>
<g clip-path="url(#c31)">
<rect x="450.5" y="73.2" width="5.2" height="23.2" fill="#fff"/>
<rect x="450.5" y="73.2" width="5.2" height="2.78" fill="#111"/>
<rect x="450.5" y="77.84" width="5.2" height="0.93" fill="#111"/>
<rect x="450.5" y="80.62" width="5.2" height="0.93" fill="#111"/>
<rect x="450.5" y="83.41" width="5.2" height="0.93" fill="#111"/>
<rect x="450.5" y="86.19" width="5.2" height="0.93" fill="#111"/>
<rect x="450.5" y="88.98" width="5.2" height="0.93" fill="#111"/>
<rect x="450.5" y="91.76" width="5.2" height="0.93" fill="#111"/>
<rect x="450.5" y="94.54" width="5.2" height="1.86" fill="#111"/>
</g>
<rect x="450.9" y="73.6" width="4.4" height="22.4" rx="0.8" fill="none" stroke="#111" stroke-width="0.8"/>
<text x="453.7" y="103.8" class="lb">10</text>
<rect x="279.7" y="106.1" width="9" height="22.3" fill="#2e6b43"/>
<rect x="280" y="106.1" width="0.9" height="22.3" fill="#5e966c"/>
<rect x="282" y="106.1" width="1" height="22.3" fill="#0c421c"/>
<rect x="283" y="106.1" width="0.9" height="22.3" fill="#5e966c"/>
<rect x="284" y="106.1" width="1" height="22.3" fill="#0c421c"/>
<rect x="285" y="106.1" width="0.9" height="22.3" fill="#5e966c"/>
<rect x="286" y="106.1" width="1" height="22.3" fill="#0c421c"/>
<rect x="287" y="106.1" width="0.9" height="22.3" fill="#5e966c"/>
<rect x="280.1" y="106.5" width="8.2" height="21.5" fill="none" stroke="#141414" stroke-width="0.8"/>
<clipPath id="c32"><rect x="274.9" y="106.1" width="5.2" height="22.3" rx="1.0"/></clipPath>
<g clip-path="url(#c32)">
<rect x="274.9" y="106.1" width="5.2" height="22.3" fill="#fff"/>
<rect x="274.9" y="106.1" width="5.2" height="3.04" fill="#111"/>
<rect x="274.9" y="110.15" width="5.2" height="2.03" fill="#111"/>
<rect x="274.9" y="113.2" width="5.2" height="2.03" fill="#111"/>
<rect x="274.9" y="118.26" width="5.2" height="2.03" fill="#8e8e8e"/>
<rect x="274.9" y="120.29" width="5.2" height="2.03" fill="#c4c4c4"/>
<rect x="274.9" y="123.33" width="5.2" height="1.01" fill="#111"/>
<rect x="274.9" y="125.36" width="5.2" height="2.03" fill="#8e8e8e"/>
<rect x="274.9" y="127.39" width="5.2" height="1.01" fill="#c4c4c4"/>
</g>
<rect x="275.3" y="106.5" width="4.4" height="21.5" rx="0.8" fill="none" stroke="#111" stroke-width="0.8"/>
<text x="278.1" y="136.1" class="lb">11</text>
<rect x="323.8" y="105.4" width="5.7" height="23" fill="#2e6b43"/>
<rect x="325" y="105.4" width="0.9" height="23" fill="#5e966c"/>
<rect x="327" y="105.4" width="1" height="23" fill="#0c421c"/>
<rect x="324.2" y="105.8" width="4.9" height="22.2" fill="none" stroke="#141414" stroke-width="0.8"/>
<clipPath id="c33"><rect x="319" y="105.4" width="5.2" height="23" rx="1.0"/></clipPath>
<g clip-path="url(#c33)">
<rect x="319" y="105.4" width="5.2" height="23" fill="#fff"/>
<rect x="319" y="105.4" width="5.2" height="1.92" fill="#111"/>
<rect x="319" y="107.32" width="5.2" height="0.96" fill="#8e8e8e"/>
<rect x="319" y="108.27" width="5.2" height="1.92" fill="#c4c4c4"/>
<rect x="319" y="114.02" width="5.2" height="1.92" fill="#111"/>
<rect x="319" y="115.94" width="5.2" height="0.96" fill="#8e8e8e"/>
<rect x="319" y="116.9" width="5.2" height="1.92" fill="#111"/>
<rect x="319" y="118.82" width="5.2" height="1.92" fill="#8e8e8e"/>
<rect x="319" y="122.65" width="5.2" height="1.92" fill="#111"/>
<rect x="319" y="127.44" width="5.2" height="0.96" fill="#444"/>
</g>
<rect x="319.4" y="105.8" width="4.4" height="22.2" rx="0.8" fill="none" stroke="#111" stroke-width="0.8"/>
<text x="322.2" y="136.1" class="lb">12</text>
<rect x="367.6" y="106.7" width="6.1" height="21.7" fill="#2e6b43"/>
<rect x="369" y="106.7" width="0.9" height="21.7" fill="#5e966c"/>
<rect x="371" y="106.7" width="1" height="21.7" fill="#0c421c"/>
<rect x="372" y="106.7" width="0.9" height="21.7" fill="#5e966c"/>
<rect x="368" y="107.1" width="5.3" height="20.9" fill="none" stroke="#141414" stroke-width="0.8"/>
<clipPath id="c34"><rect x="362.8" y="106.7" width="5.2" height="21.7" rx="1.0"/></clipPath>
<g clip-path="url(#c34)">
<rect x="362.8" y="106.7" width="5.2" height="21.7" fill="#fff"/>
<rect x="362.8" y="106.7" width="5.2" height="2.96" fill="#111"/>
<rect x="362.8" y="110.65" width="5.2" height="2.96" fill="#c4c4c4"/>
<rect x="362.8" y="113.6" width="5.2" height="2.96" fill="#8e8e8e"/>
<rect x="362.8" y="119.52" width="5.2" height="1.97" fill="#8e8e8e"/>
<rect x="362.8" y="121.5" width="5.2" height="1.97" fill="#111"/>
<rect x="362.8" y="127.41" width="5.2" height="0.99" fill="#444"/>
</g>
<rect x="363.2" y="107.1" width="4.4" height="20.9" rx="0.8" fill="none" stroke="#111" stroke-width="0.8"/>
<text x="366" y="136.1" class="lb">13</text>
<rect x="411.6" y="107.2" width="13" height="21.2" fill="#2e6b43"/>
<rect x="413" y="107.2" width="0.9" height="21.2" fill="#5e966c"/>
<rect x="414" y="107.2" width="1" height="21.2" fill="#0c421c"/>
<rect x="415" y="107.2" width="0.9" height="21.2" fill="#5e966c"/>
<rect x="417" y="107.2" width="1" height="21.2" fill="#0c421c"/>
<rect x="418" y="107.2" width="0.9" height="21.2" fill="#5e966c"/>
<rect x="419" y="107.2" width="1" height="21.2" fill="#0c421c"/>
<rect x="420" y="107.2" width="0.9" height="21.2" fill="#5e966c"/>
<rect x="422" y="107.2" width="1" height="21.2" fill="#0c421c"/>
<rect x="412" y="107.6" width="12.2" height="20.4" fill="none" stroke="#141414" stroke-width="0.8"/>
<clipPath id="c35"><rect x="406.8" y="107.2" width="5.2" height="21.2" rx="1.0"/></clipPath>
<g clip-path="url(#c35)">
<rect x="406.8" y="107.2" width="5.2" height="21.2" fill="#fff"/>
<rect x="406.8" y="107.2" width="5.2" height="2.02" fill="#111"/>
<rect x="406.8" y="110.23" width="5.2" height="2.02" fill="#111"/>
<rect x="406.8" y="116.29" width="5.2" height="2.02" fill="#8e8e8e"/>
<rect x="406.8" y="118.3" width="5.2" height="2.02" fill="#c4c4c4"/>
<rect x="406.8" y="120.32" width="5.2" height="1.01" fill="#444"/>
<rect x="406.8" y="123.35" width="5.2" height="3.03" fill="#111"/>
<rect x="406.8" y="126.38" width="5.2" height="1.01" fill="#8e8e8e"/>
<rect x="406.8" y="127.39" width="5.2" height="1.01" fill="#444"/>
</g>
<rect x="407.2" y="107.6" width="4.4" height="20.4" rx="0.8" fill="none" stroke="#111" stroke-width="0.8"/>
<text x="410" y="136.1" class="lb">14</text>
<rect x="455.3" y="106.8" width="20.5" height="21.6" fill="#2e6b43"/>
<rect x="456" y="106.8" width="0.9" height="21.6" fill="#5e966c"/>
<rect x="458" y="106.8" width="1" height="21.6" fill="#0c421c"/>
<rect x="459" y="106.8" width="0.9" height="21.6" fill="#5e966c"/>
<rect x="460" y="106.8" width="1" height="21.6" fill="#0c421c"/>
<rect x="461" y="106.8" width="0.9" height="21.6" fill="#5e966c"/>
<rect x="463" y="106.8" width="1" height="21.6" fill="#0c421c"/>
<rect x="464" y="106.8" width="0.9" height="21.6" fill="#5e966c"/>
<rect x="466" y="106.8" width="1" height="21.6" fill="#0c421c"/>
<rect x="466" y="106.8" width="0.9" height="21.6" fill="#5e966c"/>
<rect x="468" y="106.8" width="1" height="21.6" fill="#0c421c"/>
<rect x="469" y="106.8" width="0.9" height="21.6" fill="#5e966c"/>
<rect x="471" y="106.8" width="1" height="21.6" fill="#0c421c"/>
<rect x="472" y="106.8" width="0.9" height="21.6" fill="#5e966c"/>
<rect x="473" y="106.8" width="1" height="21.6" fill="#0c421c"/>
<rect x="474" y="106.8" width="0.9" height="21.6" fill="#5e966c"/>
<rect x="455.7" y="107.2" width="19.7" height="20.8" fill="none" stroke="#141414" stroke-width="0.8"/>
<clipPath id="c36"><rect x="450.5" y="106.8" width="5.2" height="21.6" rx="1.0"/></clipPath>
<g clip-path="url(#c36)">
<rect x="450.5" y="106.8" width="5.2" height="21.6" fill="#fff"/>
<rect x="450.5" y="106.8" width="5.2" height="2.06" fill="#111"/>
<rect x="450.5" y="112.97" width="5.2" height="2.06" fill="#111"/>
<rect x="450.5" y="118.11" width="5.2" height="1.03" fill="#111"/>
<rect x="450.5" y="121.2" width="5.2" height="2.06" fill="#111"/>
<rect x="450.5" y="125.31" width="5.2" height="3.09" fill="#444"/>
</g>
<rect x="450.9" y="107.2" width="4.4" height="20.8" rx="0.8" fill="none" stroke="#111" stroke-width="0.8"/>
<text x="453.7" y="136.1" class="lb">15</text>
<rect x="279.7" y="143.6" width="9" height="19.6" fill="#2e6b43"/>
<rect x="280" y="143.6" width="0.9" height="19.6" fill="#5e966c"/>
<rect x="282" y="143.6" width="1" height="19.6" fill="#0c421c"/>
<rect x="283" y="143.6" width="0.9" height="19.6" fill="#5e966c"/>
<rect x="284" y="143.6" width="1" height="19.6" fill="#0c421c"/>
<rect x="285" y="143.6" width="0.9" height="19.6" fill="#5e966c"/>
<rect x="286" y="143.6" width="1" height="19.6" fill="#0c421c"/>
<rect x="287" y="143.6" width="0.9" height="19.6" fill="#5e966c"/>
<rect x="280.1" y="144" width="8.2" height="18.8" fill="none" stroke="#141414" stroke-width="0.8"/>
<clipPath id="c37"><rect x="274.9" y="143.6" width="5.2" height="19.6" rx="1.0"/></clipPath>
<g clip-path="url(#c37)">
<rect x="274.9" y="143.6" width="5.2" height="19.6" fill="#fff"/>
<rect x="274.9" y="143.6" width="5.2" height="3.09" fill="#111"/>
<rect x="274.9" y="146.69" width="5.2" height="1.03" fill="#c4c4c4"/>
<rect x="274.9" y="150.82" width="5.2" height="1.03" fill="#8e8e8e"/>
<rect x="274.9" y="151.85" width="5.2" height="2.06" fill="#444"/>
<rect x="274.9" y="155.98" width="5.2" height="1.03" fill="#8e8e8e"/>
<rect x="274.9" y="157.01" width="5.2" height="2.06" fill="#c4c4c4"/>
<rect x="274.9" y="159.07" width="5.2" height="1.03" fill="#8e8e8e"/>
<rect x="274.9" y="160.11" width="5.2" height="2.06" fill="#111"/>
<rect x="274.9" y="162.17" width="5.2" height="1.03" fill="#8e8e8e"/>
</g>
<rect x="275.3" y="144" width="4.4" height="18.8" rx="0.8" fill="none" stroke="#111" stroke-width="0.8"/>
<text x="278.1" y="172" class="lb">16</text>
<rect x="323.8" y="144.5" width="3.2" height="18.7" fill="#2e6b43"/>
<rect x="325" y="144.5" width="0.9" height="18.7" fill="#5e966c"/>
<rect x="324.2" y="144.9" width="2.4" height="17.9" fill="none" stroke="#141414" stroke-width="0.8"/>
<clipPath id="c38"><rect x="319" y="144.5" width="5.2" height="18.7" rx="1.0"/></clipPath>
<g clip-path="url(#c38)">
<rect x="319" y="144.5" width="5.2" height="18.7" fill="#fff"/>
<rect x="319" y="144.5" width="5.2" height="3.12" fill="#111"/>
<rect x="319" y="148.66" width="5.2" height="2.08" fill="#8e8e8e"/>
<rect x="319" y="152.81" width="5.2" height="2.08" fill="#8e8e8e"/>
<rect x="319" y="154.89" width="5.2" height="1.04" fill="#c4c4c4"/>
<rect x="319" y="155.93" width="5.2" height="2.08" fill="#111"/>
<rect x="319" y="159.04" width="5.2" height="1.04" fill="#111"/>
<rect x="319" y="162.16" width="5.2" height="1.04" fill="#444"/>
</g>
<rect x="319.4" y="144.9" width="4.4" height="17.9" rx="0.8" fill="none" stroke="#111" stroke-width="0.8"/>
<text x="322.2" y="172" class="lb">17</text>
<rect x="367.6" y="144.4" width="8.6" height="18.8" fill="#2e6b43"/>
<rect x="369" y="144.4" width="0.9" height="18.8" fill="#5e966c"/>
<rect x="370" y="144.4" width="1" height="18.8" fill="#0c421c"/>
<rect x="372" y="144.4" width="0.9" height="18.8" fill="#5e966c"/>
<rect x="373" y="144.4" width="1" height="18.8" fill="#0c421c"/>
<rect x="374" y="144.4" width="0.9" height="18.8" fill="#5e966c"/>
<rect x="368" y="144.8" width="7.8" height="18" fill="none" stroke="#141414" stroke-width="0.8"/>
<clipPath id="c39"><rect x="362.8" y="144.4" width="5.2" height="18.8" rx="1.0"/></clipPath>
<g clip-path="url(#c39)">
<rect x="362.8" y="144.4" width="5.2" height="18.8" fill="#fff"/>
<rect x="362.8" y="144.4" width="5.2" height="3.13" fill="#111"/>
<rect x="362.8" y="149.62" width="5.2" height="2.09" fill="#8e8e8e"/>
<rect x="362.8" y="151.71" width="5.2" height="2.09" fill="#111"/>
<rect x="362.8" y="155.89" width="5.2" height="2.09" fill="#111"/>
<rect x="362.8" y="160.07" width="5.2" height="1.04" fill="#111"/>
<rect x="362.8" y="162.16" width="5.2" height="1.04" fill="#444"/>
</g>
<rect x="363.2" y="144.8" width="4.4" height="18" rx="0.8" fill="none" stroke="#111" stroke-width="0.8"/>
<text x="366" y="172" class="lb">18</text>
<rect x="411.6" y="148" width="3.7" height="15.2" fill="#2e6b43"/>
<rect x="413" y="148" width="0.9" height="15.2" fill="#5e966c"/>
<rect x="412" y="148.4" width="2.9" height="14.4" fill="none" stroke="#141414" stroke-width="0.8"/>
<clipPath id="c40"><rect x="406.8" y="148" width="5.2" height="15.2" rx="1.0"/></clipPath>
<g clip-path="url(#c40)">
<rect x="406.8" y="148" width="5.2" height="15.2" fill="#fff"/>
<rect x="406.8" y="148" width="5.2" height="2.85" fill="#111"/>
<rect x="406.8" y="152.75" width="5.2" height="1.9" fill="#c4c4c4"/>
<rect x="406.8" y="154.65" width="5.2" height="2.85" fill="#8e8e8e"/>
<rect x="406.8" y="157.5" width="5.2" height="1.9" fill="#c4c4c4"/>
<rect x="406.8" y="161.3" width="5.2" height="0.95" fill="#8e8e8e"/>
<rect x="406.8" y="162.25" width="5.2" height="0.95" fill="#444"/>
</g>
<rect x="407.2" y="148.4" width="4.4" height="14.4" rx="0.8" fill="none" stroke="#111" stroke-width="0.8"/>
<text x="410" y="172" class="lb">19</text>
<rect x="440.9" y="136.7" width="10.9" height="26.5" fill="#d99db5"/>
<rect x="442" y="136.7" width="0.9" height="26.5" fill="#f6cfdd"/>
<rect x="444" y="136.7" width="1" height="26.5" fill="#874763"/>
<rect x="445" y="136.7" width="0.9" height="26.5" fill="#f6cfdd"/>
<rect x="446" y="136.7" width="1" height="26.5" fill="#874763"/>
<rect x="447" y="136.7" width="0.9" height="26.5" fill="#f6cfdd"/>
<rect x="449" y="136.7" width="1" height="26.5" fill="#874763"/>
<rect x="450" y="136.7" width="0.9" height="26.5" fill="#f6cfdd"/>
<rect x="441.3" y="137.1" width="10.1" height="25.7" fill="none" stroke="#4a2a38" stroke-width="0.8"/>
<clipPath id="c41"><rect x="451.4" y="136.7" width="5.2" height="26.5" rx="1.0"/></clipPath>
<g clip-path="url(#c41)">
<rect x="451.4" y="136.7" width="5.2" height="26.5" fill="#fff"/>
<rect x="451.4" y="136.7" width="5.2" height="2.65" fill="#111"/>
<rect x="451.4" y="142" width="5.2" height="1.77" fill="#8e8e8e"/>
<rect x="451.4" y="145.53" width="5.2" height="1.77" fill="#8e8e8e"/>
<rect x="451.4" y="147.3" width="5.2" height="1.77" fill="#c4c4c4"/>
<rect x="451.4" y="149.95" width="5.2" height="2.65" fill="#111"/>
<rect x="451.4" y="154.37" width="5.2" height="1.77" fill="#111"/>
<rect x="451.4" y="157.9" width="5.2" height="1.77" fill="#444"/>
<rect x="451.4" y="161.43" width="5.2" height="1.77" fill="#444"/>
</g>
<rect x="451.8" y="137.1" width="4.4" height="25.7" rx="0.8" fill="none" stroke="#111" stroke-width="0.8"/>
<text x="454.6" y="171.4" class="lb">X</text>
<rect x="490.5" y="147" width="5.6" height="15.5" fill="#d99db5"/>
<rect x="492" y="147" width="0.9" height="15.5" fill="#f6cfdd"/>
<rect x="493" y="147" width="1" height="15.5" fill="#874763"/>
<rect x="494" y="147" width="0.9" height="15.5" fill="#f6cfdd"/>
<rect x="490.9" y="147.4" width="4.8" height="14.7" fill="none" stroke="#4a2a38" stroke-width="0.8"/>
<clipPath id="c42"><rect x="495.7" y="147" width="5.2" height="15.5" rx="1.0"/></clipPath>
<g clip-path="url(#c42)">
<rect x="495.7" y="147" width="5.2" height="15.5" fill="#fff"/>
<rect x="495.7" y="147" width="5.2" height="0.97" fill="#444"/>
<rect x="495.7" y="147.97" width="5.2" height="1.94" fill="#c4c4c4"/>
<rect x="495.7" y="149.91" width="5.2" height="1.94" fill="#444"/>
<rect x="495.7" y="151.84" width="5.2" height="1.94" fill="#c4c4c4"/>
<rect x="495.7" y="153.78" width="5.2" height="1.94" fill="#444"/>
<rect x="495.7" y="155.72" width="5.2" height="0.97" fill="#c4c4c4"/>
<rect x="495.7" y="156.69" width="5.2" height="1.94" fill="#444"/>
<rect x="495.7" y="158.62" width="5.2" height="0.97" fill="#8e8e8e"/>
<rect x="495.7" y="159.59" width="5.2" height="0.97" fill="#c4c4c4"/>
<rect x="495.7" y="160.56" width="5.2" height="0.97" fill="#8e8e8e"/>
<rect x="495.7" y="161.53" width="5.2" height="0.97" fill="#444"/>
</g>
<rect x="496.1" y="147.4" width="4.4" height="14.7" rx="0.8" fill="none" stroke="#111" stroke-width="0.8"/>
<text x="498.6" y="171.4" class="lb">Y</text>
<clipPath id="c43"><rect x="17.2" y="207.1" width="5.2" height="35.5" rx="1.0"/></clipPath>
<g clip-path="url(#c43)">
<rect x="17.2" y="207.1" width="5.2" height="35.5" fill="#fff"/>
<rect x="17.2" y="207.1" width="5.2" height="1.97" fill="#111"/>
<rect x="17.2" y="209.07" width="5.2" height="0.99" fill="#8e8e8e"/>
<rect x="17.2" y="210.06" width="5.2" height="1.97" fill="#444"/>
<rect x="17.2" y="214.99" width="5.2" height="0.99" fill="#444"/>
<rect x="17.2" y="215.97" width="5.2" height="1.97" fill="#8e8e8e"/>
<rect x="17.2" y="219.92" width="5.2" height="0.99" fill="#444"/>
<rect x="17.2" y="220.91" width="5.2" height="2.96" fill="#8e8e8e"/>
<rect x="17.2" y="225.84" width="5.2" height="1.97" fill="#111"/>
<rect x="17.2" y="227.81" width="5.2" height="1.97" fill="#8e8e8e"/>
<rect x="17.2" y="232.74" width="5.2" height="1.97" fill="#111"/>
<rect x="17.2" y="234.71" width="5.2" height="0.99" fill="#8e8e8e"/>
<rect x="17.2" y="237.67" width="5.2" height="1.97" fill="#444"/>
<rect x="17.2" y="241.61" width="5.2" height="0.99" fill="#444"/>
</g>
<rect x="17.6" y="207.5" width="4.4" height="34.7" rx="0.8" fill="none" stroke="#111" stroke-width="0.8"/>
<text x="20.4" y="250.8" class="lb">1</text>
<clipPath id="c44"><rect x="61.3" y="208.7" width="5.2" height="33.9" rx="1.0"/></clipPath>
<g clip-path="url(#c44)">
<rect x="61.3" y="208.7" width="5.2" height="33.9" fill="#fff"/>
<rect x="61.3" y="208.7" width="5.2" height="2.91" fill="#111"/>
<rect x="61.3" y="213.54" width="5.2" height="1.94" fill="#8e8e8e"/>
<rect x="61.3" y="218.39" width="5.2" height="1.94" fill="#111"/>
<rect x="61.3" y="220.32" width="5.2" height="3.87" fill="#8e8e8e"/>
<rect x="61.3" y="224.2" width="5.2" height="1.94" fill="#111"/>
<rect x="61.3" y="226.13" width="5.2" height="2.91" fill="#8e8e8e"/>
<rect x="61.3" y="229.04" width="5.2" height="1.94" fill="#444"/>
<rect x="61.3" y="231.95" width="5.2" height="1.94" fill="#444"/>
<rect x="61.3" y="235.82" width="5.2" height="0.97" fill="#444"/>
<rect x="61.3" y="238.73" width="5.2" height="1.94" fill="#444"/>
</g>
<rect x="61.7" y="209.1" width="4.4" height="33.1" rx="0.8" fill="none" stroke="#111" stroke-width="0.8"/>
<text x="64.5" y="250.8" class="lb">2</text>
<clipPath id="c45"><rect x="105.1" y="212.3" width="5.2" height="30.3" rx="1.0"/></clipPath>
<g clip-path="url(#c45)">
<rect x="105.1" y="212.3" width="5.2" height="30.3" fill="#fff"/>
<rect x="105.1" y="212.3" width="5.2" height="3.5" fill="#111"/>
<rect x="105.1" y="216.96" width="5.2" height="1.17" fill="#8e8e8e"/>
<rect x="105.1" y="219.29" width="5.2" height="1.17" fill="#8e8e8e"/>
<rect x="105.1" y="220.46" width="5.2" height="1.17" fill="#111"/>
<rect x="105.1" y="223.95" width="5.2" height="1.17" fill="#111"/>
<rect x="105.1" y="225.12" width="5.2" height="1.17" fill="#8e8e8e"/>
<rect x="105.1" y="228.62" width="5.2" height="1.17" fill="#444"/>
<rect x="105.1" y="229.78" width="5.2" height="1.17" fill="#8e8e8e"/>
<rect x="105.1" y="233.28" width="5.2" height="2.33" fill="#111"/>
<rect x="105.1" y="235.61" width="5.2" height="1.17" fill="#8e8e8e"/>
<rect x="105.1" y="237.94" width="5.2" height="1.17" fill="#444"/>
<rect x="105.1" y="241.43" width="5.2" height="1.17" fill="#444"/>
</g>
<rect x="105.5" y="212.7" width="4.4" height="29.5" rx="0.8" fill="none" stroke="#111" stroke-width="0.8"/>
<text x="108.3" y="250.8" class="lb">3</text>
<clipPath id="c46"><rect x="149.1" y="213.8" width="5.2" height="28.8" rx="1.0"/></clipPath>
<g clip-path="url(#c46)">
<rect x="149.1" y="213.8" width="5.2" height="28.8" fill="#fff"/>
<rect x="149.1" y="213.8" width="5.2" height="1.92" fill="#111"/>
<rect x="149.1" y="217.64" width="5.2" height="1.92" fill="#444"/>
<rect x="149.1" y="219.56" width="5.2" height="1.92" fill="#8e8e8e"/>
<rect x="149.1" y="221.48" width="5.2" height="1.92" fill="#c4c4c4"/>
<rect x="149.1" y="223.4" width="5.2" height="1.92" fill="#444"/>
<rect x="149.1" y="225.32" width="5.2" height="1.92" fill="#8e8e8e"/>
<rect x="149.1" y="227.24" width="5.2" height="2.88" fill="#111"/>
<rect x="149.1" y="230.12" width="5.2" height="1.92" fill="#8e8e8e"/>
<rect x="149.1" y="232.04" width="5.2" height="1.92" fill="#c4c4c4"/>
<rect x="149.1" y="233.96" width="5.2" height="1.92" fill="#444"/>
<rect x="149.1" y="237.8" width="5.2" height="1.92" fill="#444"/>
<rect x="149.1" y="241.64" width="5.2" height="0.96" fill="#444"/>
</g>
<rect x="149.5" y="214.2" width="4.4" height="28" rx="0.8" fill="none" stroke="#111" stroke-width="0.8"/>
<text x="152.3" y="250.8" class="lb">4</text>
<clipPath id="c47"><rect x="192.8" y="213.6" width="5.2" height="29" rx="1.0"/></clipPath>
<g clip-path="url(#c47)">
<rect x="192.8" y="213.6" width="5.2" height="29" fill="#fff"/>
<rect x="192.8" y="213.6" width="5.2" height="1.87" fill="#111"/>
<rect x="192.8" y="215.47" width="5.2" height="1.87" fill="#8e8e8e"/>
<rect x="192.8" y="220.15" width="5.2" height="2.81" fill="#c4c4c4"/>
<rect x="192.8" y="222.95" width="5.2" height="1.87" fill="#444"/>
<rect x="192.8" y="224.83" width="5.2" height="1.87" fill="#111"/>
<rect x="192.8" y="228.57" width="5.2" height="1.87" fill="#111"/>
<rect x="192.8" y="230.44" width="5.2" height="1.87" fill="#444"/>
<rect x="192.8" y="232.31" width="5.2" height="1.87" fill="#8e8e8e"/>
<rect x="192.8" y="237.92" width="5.2" height="1.87" fill="#444"/>
<rect x="192.8" y="240.73" width="5.2" height="1.87" fill="#444"/>
</g>
<rect x="193.2" y="214" width="4.4" height="28.2" rx="0.8" fill="none" stroke="#111" stroke-width="0.8"/>
<text x="196" y="250.8" class="lb">5</text>
<clipPath id="c48"><rect x="17.2" y="251.1" width="5.2" height="27.5" rx="1.0"/></clipPath>
<g clip-path="url(#c48)">
<rect x="17.2" y="251.1" width="5.2" height="27.5" fill="#fff"/>
<rect x="17.2" y="251.1" width="5.2" height="2.04" fill="#111"/>
<rect x="17.2" y="254.16" width="5.2" height="2.04" fill="#111"/>
<rect x="17.2" y="257.21" width="5.2" height="1.02" fill="#8e8e8e"/>
<rect x="17.2" y="260.27" width="5.2" height="1.02" fill="#111"/>
<rect x="17.2" y="261.29" width="5.2" height="2.04" fill="#8e8e8e"/>
<rect x="17.2" y="263.32" width="5.2" height="2.04" fill="#c4c4c4"/>
<rect x="17.2" y="267.4" width="5.2" height="2.04" fill="#111"/>
<rect x="17.2" y="269.43" width="5.2" height="1.02" fill="#8e8e8e"/>
<rect x="17.2" y="272.49" width="5.2" height="2.04" fill="#8e8e8e"/>
<rect x="17.2" y="274.53" width="5.2" height="3.06" fill="#c4c4c4"/>
<rect x="17.2" y="277.58" width="5.2" height="1.02" fill="#444"/>
</g>
<rect x="17.6" y="251.5" width="4.4" height="26.7" rx="0.8" fill="none" stroke="#111" stroke-width="0.8"/>
<text x="20.4" y="287.1" class="lb">6</text>
<clipPath id="c49"><rect x="61.3" y="251.8" width="5.2" height="26.8" rx="1.0"/></clipPath>
<g clip-path="url(#c49)">
<rect x="61.3" y="251.8" width="5.2" height="26.8" fill="#fff"/>
<rect x="61.3" y="251.8" width="5.2" height="1.91" fill="#111"/>
<rect x="61.3" y="255.63" width="5.2" height="0.96" fill="#8e8e8e"/>
<rect x="61.3" y="257.54" width="5.2" height="3.83" fill="#8e8e8e"/>
<rect x="61.3" y="262.33" width="5.2" height="1.91" fill="#111"/>
<rect x="61.3" y="264.24" width="5.2" height="2.87" fill="#8e8e8e"/>
<rect x="61.3" y="267.11" width="5.2" height="4.79" fill="#444"/>
<rect x="61.3" y="273.81" width="5.2" height="1.91" fill="#444"/>
<rect x="61.3" y="277.64" width="5.2" height="0.96" fill="#444"/>
</g>
<rect x="61.7" y="252.2" width="4.4" height="26" rx="0.8" fill="none" stroke="#111" stroke-width="0.8"/>
<text x="64.5" y="287.1" class="lb">7</text>
<rect x="109.9" y="254.6" width="6.2" height="24" fill="#2e6b43"/>
<rect x="111" y="254.6" width="0.9" height="24" fill="#5e966c"/>
<rect x="113" y="254.6" width="1" height="24" fill="#0c421c"/>
<rect x="114" y="254.6" width="0.9" height="24" fill="#5e966c"/>
<rect x="110.3" y="255" width="5.4" height="23.2" fill="none" stroke="#141414" stroke-width="0.8"/>
<clipPath id="c50"><rect x="105.1" y="254.6" width="5.2" height="24" rx="1.0"/></clipPath>
<g clip-path="url(#c50)">
<rect x="105.1" y="254.6" width="5.2" height="24" fill="#fff"/>
<rect x="105.1" y="254.6" width="5.2" height="3.13" fill="#111"/>
<rect x="105.1" y="259.82" width="5.2" height="1.04" fill="#8e8e8e"/>
<rect x="105.1" y="262.95" width="5.2" height="1.04" fill="#8e8e8e"/>
<rect x="105.1" y="263.99" width="5.2" height="2.09" fill="#111"/>
<rect x="105.1" y="269.21" width="5.2" height="1.04" fill="#8e8e8e"/>
<rect x="105.1" y="272.34" width="5.2" height="2.09" fill="#111"/>
<rect x="105.1" y="277.56" width="5.2" height="1.04" fill="#444"/>
</g>
<rect x="105.5" y="255" width="4.4" height="23.2" rx="0.8" fill="none" stroke="#111" stroke-width="0.8"/>
<text x="108.3" y="287.1" class="lb">8</text>
<clipPath id="c51"><rect x="149.1" y="254" width="5.2" height="24.6" rx="1.0"/></clipPath>
<g clip-path="url(#c51)">
<rect x="149.1" y="254" width="5.2" height="24.6" fill="#fff"/>
<rect x="149.1" y="254" width="5.2" height="3.07" fill="#111"/>
<rect x="149.1" y="257.07" width="5.2" height="1.02" fill="#444"/>
<rect x="149.1" y="259.12" width="5.2" height="1.02" fill="#444"/>
<rect x="149.1" y="260.15" width="5.2" height="2.05" fill="#8e8e8e"/>
<rect x="149.1" y="264.25" width="5.2" height="2.05" fill="#8e8e8e"/>
<rect x="149.1" y="269.38" width="5.2" height="2.05" fill="#8e8e8e"/>
<rect x="149.1" y="271.42" width="5.2" height="2.05" fill="#111"/>
<rect x="149.1" y="274.5" width="5.2" height="1.02" fill="#444"/>
<rect x="149.1" y="277.57" width="5.2" height="1.02" fill="#444"/>
</g>
<rect x="149.5" y="254.4" width="4.4" height="23.8" rx="0.8" fill="none" stroke="#111" stroke-width="0.8"/>
<text x="152.3" y="287.1" class="lb">9</text>
<rect x="197.6" y="255.4" width="8.7" height="23.2" fill="#2e6b43"/>
<rect x="199" y="255.4" width="0.9" height="23.2" fill="#5e966c"/>
<rect x="201" y="255.4" width="1" height="23.2" fill="#0c421c"/>
<rect x="202" y="255.4" width="0.9" height="23.2" fill="#5e966c"/>
<rect x="203" y="255.4" width="1" height="23.2" fill="#0c421c"/>
<rect x="204" y="255.4" width="0.9" height="23.2" fill="#5e966c"/>
<rect x="198" y="255.8" width="7.9" height="22.4" fill="none" stroke="#141414" stroke-width="0.8"/>
<clipPath id="c52"><rect x="192.8" y="255.4" width="5.2" height="23.2" rx="1.0"/></clipPath>
<g clip-path="url(#c52)">
<rect x="192.8" y="255.4" width="5.2" height="23.2" fill="#fff"/>
<rect x="192.8" y="255.4" width="5.2" height="2.78" fill="#111"/>
<rect x="192.8" y="260.04" width="5.2" height="0.93" fill="#111"/>
<rect x="192.8" y="262.82" width="5.2" height="0.93" fill="#111"/>
<rect x="192.8" y="265.61" width="5.2" height="0.93" fill="#111"/>
<rect x="192.8" y="268.39" width="5.2" height="0.93" fill="#111"/>
<rect x="192.8" y="271.18" width="5.2" height="0.93" fill="#111"/>
<rect x="192.8" y="273.96" width="5.2" height="0.93" fill="#111"/>
<rect x="192.8" y="276.74" width="5.2" height="1.86" fill="#111"/>
</g>
<rect x="193.2" y="255.8" width="4.4" height="22.4" rx="0.8" fill="none" stroke="#111" stroke-width="0.8"/>
<text x="196" y="287.1" class="lb">10</text>
<clipPath id="c53"><rect x="17.2" y="288.7" width="5.2" height="22.3" rx="1.0"/></clipPath>
<g clip-path="url(#c53)">
<rect x="17.2" y="288.7" width="5.2" height="22.3" fill="#fff"/>
<rect x="17.2" y="288.7" width="5.2" height="3.04" fill="#111"/>
<rect x="17.2" y="292.75" width="5.2" height="2.03" fill="#111"/>
<rect x="17.2" y="295.8" width="5.2" height="2.03" fill="#111"/>
<rect x="17.2" y="300.86" width="5.2" height="2.03" fill="#8e8e8e"/>
<rect x="17.2" y="302.89" width="5.2" height="2.03" fill="#c4c4c4"/>
<rect x="17.2" y="305.93" width="5.2" height="1.01" fill="#111"/>
<rect x="17.2" y="307.96" width="5.2" height="2.03" fill="#8e8e8e"/>
<rect x="17.2" y="309.99" width="5.2" height="1.01" fill="#c4c4c4"/>
</g>
<rect x="17.6" y="289.1" width="4.4" height="21.5" rx="0.8" fill="none" stroke="#111" stroke-width="0.8"/>
<text x="20.4" y="319.1" class="lb">11</text>
<clipPath id="c54"><rect x="61.3" y="288" width="5.2" height="23" rx="1.0"/></clipPath>
<g clip-path="url(#c54)">
<rect x="61.3" y="288" width="5.2" height="23" fill="#fff"/>
<rect x="61.3" y="288" width="5.2" height="1.92" fill="#111"/>
<rect x="61.3" y="289.92" width="5.2" height="0.96" fill="#8e8e8e"/>
<rect x="61.3" y="290.88" width="5.2" height="1.92" fill="#c4c4c4"/>
<rect x="61.3" y="296.62" width="5.2" height="1.92" fill="#111"/>
<rect x="61.3" y="298.54" width="5.2" height="0.96" fill="#8e8e8e"/>
<rect x="61.3" y="299.5" width="5.2" height="1.92" fill="#111"/>
<rect x="61.3" y="301.42" width="5.2" height="1.92" fill="#8e8e8e"/>
<rect x="61.3" y="305.25" width="5.2" height="1.92" fill="#111"/>
<rect x="61.3" y="310.04" width="5.2" height="0.96" fill="#444"/>
</g>
<rect x="61.7" y="288.4" width="4.4" height="22.2" rx="0.8" fill="none" stroke="#111" stroke-width="0.8"/>
<text x="64.5" y="319.1" class="lb">12</text>
<clipPath id="c55"><rect x="105.1" y="289.3" width="5.2" height="21.7" rx="1.0"/></clipPath>
<g clip-path="url(#c55)">
<rect x="105.1" y="289.3" width="5.2" height="21.7" fill="#fff"/>
<rect x="105.1" y="289.3" width="5.2" height="2.96" fill="#111"/>
<rect x="105.1" y="293.25" width="5.2" height="2.96" fill="#c4c4c4"/>
<rect x="105.1" y="296.2" width="5.2" height="2.96" fill="#8e8e8e"/>
<rect x="105.1" y="302.12" width="5.2" height="1.97" fill="#8e8e8e"/>
<rect x="105.1" y="304.1" width="5.2" height="1.97" fill="#111"/>
<rect x="105.1" y="310.01" width="5.2" height="0.99" fill="#444"/>
</g>
<rect x="105.5" y="289.7" width="4.4" height="20.9" rx="0.8" fill="none" stroke="#111" stroke-width="0.8"/>
<text x="108.3" y="319.1" class="lb">13</text>
<clipPath id="c56"><rect x="149.1" y="289.8" width="5.2" height="21.2" rx="1.0"/></clipPath>
<g clip-path="url(#c56)">
<rect x="149.1" y="289.8" width="5.2" height="21.2" fill="#fff"/>
<rect x="149.1" y="289.8" width="5.2" height="2.02" fill="#111"/>
<rect x="149.1" y="292.83" width="5.2" height="2.02" fill="#111"/>
<rect x="149.1" y="298.89" width="5.2" height="2.02" fill="#8e8e8e"/>
<rect x="149.1" y="300.9" width="5.2" height="2.02" fill="#c4c4c4"/>
<rect x="149.1" y="302.92" width="5.2" height="1.01" fill="#444"/>
<rect x="149.1" y="305.95" width="5.2" height="3.03" fill="#111"/>
<rect x="149.1" y="308.98" width="5.2" height="1.01" fill="#8e8e8e"/>
<rect x="149.1" y="309.99" width="5.2" height="1.01" fill="#444"/>
</g>
<rect x="149.5" y="290.2" width="4.4" height="20.4" rx="0.8" fill="none" stroke="#111" stroke-width="0.8"/>
<text x="152.3" y="319.1" class="lb">14</text>
<rect x="197.6" y="289.4" width="8.4" height="21.6" fill="#2e6b43"/>
<rect x="199" y="289.4" width="0.9" height="21.6" fill="#5e966c"/>
<rect x="200" y="289.4" width="1" height="21.6" fill="#0c421c"/>
<rect x="201" y="289.4" width="0.9" height="21.6" fill="#5e966c"/>
<rect x="203" y="289.4" width="1" height="21.6" fill="#0c421c"/>
<rect x="204" y="289.4" width="0.9" height="21.6" fill="#5e966c"/>
<rect x="198" y="289.8" width="7.6" height="20.8" fill="none" stroke="#141414" stroke-width="0.8"/>
<clipPath id="c57"><rect x="192.8" y="289.4" width="5.2" height="21.6" rx="1.0"/></clipPath>
<g clip-path="url(#c57)">
<rect x="192.8" y="289.4" width="5.2" height="21.6" fill="#fff"/>
<rect x="192.8" y="289.4" width="5.2" height="2.06" fill="#111"/>
<rect x="192.8" y="295.57" width="5.2" height="2.06" fill="#111"/>
<rect x="192.8" y="300.71" width="5.2" height="1.03" fill="#111"/>
<rect x="192.8" y="303.8" width="5.2" height="2.06" fill="#111"/>
<rect x="192.8" y="307.91" width="5.2" height="3.09" fill="#444"/>
</g>
<rect x="193.2" y="289.8" width="4.4" height="20.8" rx="0.8" fill="none" stroke="#111" stroke-width="0.8"/>
<text x="196" y="319.1" class="lb">15</text>
<clipPath id="c58"><rect x="17.2" y="325.6" width="5.2" height="19.6" rx="1.0"/></clipPath>
<g clip-path="url(#c58)">
<rect x="17.2" y="325.6" width="5.2" height="19.6" fill="#fff"/>
<rect x="17.2" y="325.6" width="5.2" height="3.09" fill="#111"/>
<rect x="17.2" y="328.69" width="5.2" height="1.03" fill="#c4c4c4"/>
<rect x="17.2" y="332.82" width="5.2" height="1.03" fill="#8e8e8e"/>
<rect x="17.2" y="333.85" width="5.2" height="2.06" fill="#444"/>
<rect x="17.2" y="337.98" width="5.2" height="1.03" fill="#8e8e8e"/>
<rect x="17.2" y="339.01" width="5.2" height="2.06" fill="#c4c4c4"/>
<rect x="17.2" y="341.07" width="5.2" height="1.03" fill="#8e8e8e"/>
<rect x="17.2" y="342.11" width="5.2" height="2.06" fill="#111"/>
<rect x="17.2" y="344.17" width="5.2" height="1.03" fill="#8e8e8e"/>
</g>
<rect x="17.6" y="326" width="4.4" height="18.8" rx="0.8" fill="none" stroke="#111" stroke-width="0.8"/>
<text x="20.4" y="354.2" class="lb">16</text>
<clipPath id="c59"><rect x="61.3" y="326.5" width="5.2" height="18.7" rx="1.0"/></clipPath>
<g clip-path="url(#c59)">
<rect x="61.3" y="326.5" width="5.2" height="18.7" fill="#fff"/>
<rect x="61.3" y="326.5" width="5.2" height="3.12" fill="#111"/>
<rect x="61.3" y="330.66" width="5.2" height="2.08" fill="#8e8e8e"/>
<rect x="61.3" y="334.81" width="5.2" height="2.08" fill="#8e8e8e"/>
<rect x="61.3" y="336.89" width="5.2" height="1.04" fill="#c4c4c4"/>
<rect x="61.3" y="337.93" width="5.2" height="2.08" fill="#111"/>
<rect x="61.3" y="341.04" width="5.2" height="1.04" fill="#111"/>
<rect x="61.3" y="344.16" width="5.2" height="1.04" fill="#444"/>
</g>
<rect x="61.7" y="326.9" width="4.4" height="17.9" rx="0.8" fill="none" stroke="#111" stroke-width="0.8"/>
<text x="64.5" y="354.2" class="lb">17</text>
<clipPath id="c60"><rect x="105.1" y="326.4" width="5.2" height="18.8" rx="1.0"/></clipPath>
<g clip-path="url(#c60)">
<rect x="105.1" y="326.4" width="5.2" height="18.8" fill="#fff"/>
<rect x="105.1" y="326.4" width="5.2" height="3.13" fill="#111"/>
<rect x="105.1" y="331.62" width="5.2" height="2.09" fill="#8e8e8e"/>
<rect x="105.1" y="333.71" width="5.2" height="2.09" fill="#111"/>
<rect x="105.1" y="337.89" width="5.2" height="2.09" fill="#111"/>
<rect x="105.1" y="342.07" width="5.2" height="1.04" fill="#111"/>
<rect x="105.1" y="344.16" width="5.2" height="1.04" fill="#444"/>
</g>
<rect x="105.5" y="326.8" width="4.4" height="18" rx="0.8" fill="none" stroke="#111" stroke-width="0.8"/>
<text x="108.3" y="354.2" class="lb">18</text>
<clipPath id="c61"><rect x="149.1" y="330" width="5.2" height="15.2" rx="1.0"/></clipPath>
<g clip-path="url(#c61)">
<rect x="149.1" y="330" width="5.2" height="15.2" fill="#fff"/>
<rect x="149.1" y="330" width="5.2" height="2.85" fill="#111"/>
<rect x="149.1" y="334.75" width="5.2" height="1.9" fill="#c4c4c4"/>
<rect x="149.1" y="336.65" width="5.2" height="2.85" fill="#8e8e8e"/>
<rect x="149.1" y="339.5" width="5.2" height="1.9" fill="#c4c4c4"/>
<rect x="149.1" y="343.3" width="5.2" height="0.95" fill="#8e8e8e"/>
<rect x="149.1" y="344.25" width="5.2" height="0.95" fill="#444"/>
</g>
<rect x="149.5" y="330.4" width="4.4" height="14.4" rx="0.8" fill="none" stroke="#111" stroke-width="0.8"/>
<text x="152.3" y="354.2" class="lb">19</text>
<rect x="177.7" y="318.7" width="15.5" height="26.5" fill="#d99db5"/>
<rect x="178" y="318.7" width="0.9" height="26.5" fill="#f6cfdd"/>
<rect x="180" y="318.7" width="1" height="26.5" fill="#874763"/>
<rect x="181" y="318.7" width="0.9" height="26.5" fill="#f6cfdd"/>
<rect x="182" y="318.7" width="1" height="26.5" fill="#874763"/>
<rect x="183" y="318.7" width="0.9" height="26.5" fill="#f6cfdd"/>
<rect x="184" y="318.7" width="1" height="26.5" fill="#874763"/>
<rect x="185" y="318.7" width="0.9" height="26.5" fill="#f6cfdd"/>
<rect x="187" y="318.7" width="1" height="26.5" fill="#874763"/>
<rect x="187" y="318.7" width="0.9" height="26.5" fill="#f6cfdd"/>
<rect x="189" y="318.7" width="1" height="26.5" fill="#874763"/>
<rect x="189" y="318.7" width="0.9" height="26.5" fill="#f6cfdd"/>
<rect x="191" y="318.7" width="1" height="26.5" fill="#874763"/>
<rect x="178.1" y="319.1" width="14.7" height="25.7" fill="none" stroke="#4a2a38" stroke-width="0.8"/>
<clipPath id="c62"><rect x="192.8" y="318.7" width="5.2" height="26.5" rx="1.0"/></clipPath>
<g clip-path="url(#c62)">
<rect x="192.8" y="318.7" width="5.2" height="26.5" fill="#fff"/>
<rect x="192.8" y="318.7" width="5.2" height="2.65" fill="#111"/>
<rect x="192.8" y="324" width="5.2" height="1.77" fill="#8e8e8e"/>
<rect x="192.8" y="327.53" width="5.2" height="1.77" fill="#8e8e8e"/>
<rect x="192.8" y="329.3" width="5.2" height="1.77" fill="#c4c4c4"/>
<rect x="192.8" y="331.95" width="5.2" height="2.65" fill="#111"/>
<rect x="192.8" y="336.37" width="5.2" height="1.77" fill="#111"/>
<rect x="192.8" y="339.9" width="5.2" height="1.77" fill="#444"/>
<rect x="192.8" y="343.43" width="5.2" height="1.77" fill="#444"/>
</g>
<rect x="193.2" y="319.1" width="4.4" height="25.7" rx="0.8" fill="none" stroke="#111" stroke-width="0.8"/>
<text x="196" y="353.6" class="lb">X</text>
<clipPath id="c63"><rect x="237" y="329" width="5.2" height="15.5" rx="1.0"/></clipPath>
<g clip-path="url(#c63)">
<rect x="237" y="329" width="5.2" height="15.5" fill="#fff"/>
<rect x="237" y="329" width="5.2" height="0.97" fill="#444"/>
<rect x="237" y="329.97" width="5.2" height="1.94" fill="#c4c4c4"/>
<rect x="237" y="331.91" width="5.2" height="1.94" fill="#444"/>
<rect x="237" y="333.84" width="5.2" height="1.94" fill="#c4c4c4"/>
<rect x="237" y="335.78" width="5.2" height="1.94" fill="#444"/>
<rect x="237" y="337.72" width="5.2" height="0.97" fill="#c4c4c4"/>
<rect x="237" y="338.69" width="5.2" height="1.94" fill="#444"/>
<rect x="237" y="340.62" width="5.2" height="0.97" fill="#8e8e8e"/>
<rect x="237" y="341.59" width="5.2" height="0.97" fill="#c4c4c4"/>
<rect x="237" y="342.56" width="5.2" height="0.97" fill="#8e8e8e"/>
<rect x="237" y="343.53" width="5.2" height="0.97" fill="#444"/>
</g>
<rect x="237.4" y="329.4" width="4.4" height="14.7" rx="0.8" fill="none" stroke="#111" stroke-width="0.8"/>
<text x="239.9" y="353.6" class="lb">Y</text>
<clipPath id="c64"><rect x="275" y="206" width="5.2" height="35.5" rx="1.0"/></clipPath>
<g clip-path="url(#c64)">
<rect x="275" y="206" width="5.2" height="35.5" fill="#fff"/>
<rect x="275" y="206" width="5.2" height="1.97" fill="#111"/>
<rect x="275" y="207.97" width="5.2" height="0.99" fill="#8e8e8e"/>
<rect x="275" y="208.96" width="5.2" height="1.97" fill="#444"/>
<rect x="275" y="213.89" width="5.2" height="0.99" fill="#444"/>
<rect x="275" y="214.88" width="5.2" height="1.97" fill="#8e8e8e"/>
<rect x="275" y="218.82" width="5.2" height="0.99" fill="#444"/>
<rect x="275" y="219.81" width="5.2" height="2.96" fill="#8e8e8e"/>
<rect x="275" y="224.74" width="5.2" height="1.97" fill="#111"/>
<rect x="275" y="226.71" width="5.2" height="1.97" fill="#8e8e8e"/>
<rect x="275" y="231.64" width="5.2" height="1.97" fill="#111"/>
<rect x="275" y="233.61" width="5.2" height="0.99" fill="#8e8e8e"/>
<rect x="275" y="236.57" width="5.2" height="1.97" fill="#444"/>
<rect x="275" y="240.51" width="5.2" height="0.99" fill="#444"/>
</g>
<rect x="275.4" y="206.4" width="4.4" height="34.7" rx="0.8" fill="none" stroke="#111" stroke-width="0.8"/>
<text x="278.2" y="249.8" class="lb">1</text>
<clipPath id="c65"><rect x="319.1" y="207.6" width="5.2" height="33.9" rx="1.0"/></clipPath>
<g clip-path="url(#c65)">
<rect x="319.1" y="207.6" width="5.2" height="33.9" fill="#fff"/>
<rect x="319.1" y="207.6" width="5.2" height="2.91" fill="#111"/>
<rect x="319.1" y="212.44" width="5.2" height="1.94" fill="#8e8e8e"/>
<rect x="319.1" y="217.29" width="5.2" height="1.94" fill="#111"/>
<rect x="319.1" y="219.22" width="5.2" height="3.87" fill="#8e8e8e"/>
<rect x="319.1" y="223.1" width="5.2" height="1.94" fill="#111"/>
<rect x="319.1" y="225.03" width="5.2" height="2.91" fill="#8e8e8e"/>
<rect x="319.1" y="227.94" width="5.2" height="1.94" fill="#444"/>
<rect x="319.1" y="230.85" width="5.2" height="1.94" fill="#444"/>
<rect x="319.1" y="234.72" width="5.2" height="0.97" fill="#444"/>
<rect x="319.1" y="237.63" width="5.2" height="1.94" fill="#444"/>
</g>
<rect x="319.5" y="208" width="4.4" height="33.1" rx="0.8" fill="none" stroke="#111" stroke-width="0.8"/>
<text x="322.3" y="249.8" class="lb">2</text>
<clipPath id="c66"><rect x="362.9" y="211.2" width="5.2" height="30.3" rx="1.0"/></clipPath>
<g clip-path="url(#c66)">
<rect x="362.9" y="211.2" width="5.2" height="30.3" fill="#fff"/>
<rect x="362.9" y="211.2" width="5.2" height="3.5" fill="#111"/>
<rect x="362.9" y="215.86" width="5.2" height="1.17" fill="#8e8e8e"/>
<rect x="362.9" y="218.19" width="5.2" height="1.17" fill="#8e8e8e"/>
<rect x="362.9" y="219.36" width="5.2" height="1.17" fill="#111"/>
<rect x="362.9" y="222.85" width="5.2" height="1.17" fill="#111"/>
<rect x="362.9" y="224.02" width="5.2" height="1.17" fill="#8e8e8e"/>
<rect x="362.9" y="227.52" width="5.2" height="1.17" fill="#444"/>
<rect x="362.9" y="228.68" width="5.2" height="1.17" fill="#8e8e8e"/>
<rect x="362.9" y="232.18" width="5.2" height="2.33" fill="#111"/>
<rect x="362.9" y="234.51" width="5.2" height="1.17" fill="#8e8e8e"/>
<rect x="362.9" y="236.84" width="5.2" height="1.17" fill="#444"/>
<rect x="362.9" y="240.33" width="5.2" height="1.17" fill="#444"/>
</g>
<rect x="363.3" y="211.6" width="4.4" height="29.5" rx="0.8" fill="none" stroke="#111" stroke-width="0.8"/>
<text x="366.1" y="249.8" class="lb">3</text>
<clipPath id="c67"><rect x="406.9" y="212.7" width="5.2" height="28.8" rx="1.0"/></clipPath>
<g clip-path="url(#c67)">
<rect x="406.9" y="212.7" width="5.2" height="28.8" fill="#fff"/>
<rect x="406.9" y="212.7" width="5.2" height="1.92" fill="#111"/>
<rect x="406.9" y="216.54" width="5.2" height="1.92" fill="#444"/>
<rect x="406.9" y="218.46" width="5.2" height="1.92" fill="#8e8e8e"/>
<rect x="406.9" y="220.38" width="5.2" height="1.92" fill="#c4c4c4"/>
<rect x="406.9" y="222.3" width="5.2" height="1.92" fill="#444"/>
<rect x="406.9" y="224.22" width="5.2" height="1.92" fill="#8e8e8e"/>
<rect x="406.9" y="226.14" width="5.2" height="2.88" fill="#111"/>
<rect x="406.9" y="229.02" width="5.2" height="1.92" fill="#8e8e8e"/>
<rect x="406.9" y="230.94" width="5.2" height="1.92" fill="#c4c4c4"/>
<rect x="406.9" y="232.86" width="5.2" height="1.92" fill="#444"/>
<rect x="406.9" y="236.7" width="5.2" height="1.92" fill="#444"/>
<rect x="406.9" y="240.54" width="5.2" height="0.96" fill="#444"/>
</g>
<rect x="407.3" y="213.1" width="4.4" height="28" rx="0.8" fill="none" stroke="#111" stroke-width="0.8"/>
<text x="410.1" y="249.8" class="lb">4</text>
<clipPath id="c68"><rect x="450.6" y="212.5" width="5.2" height="29" rx="1.0"/></clipPath>
<g clip-path="url(#c68)">
<rect x="450.6" y="212.5" width="5.2" height="29" fill="#fff"/>
<rect x="450.6" y="212.5" width="5.2" height="1.87" fill="#111"/>
<rect x="450.6" y="214.37" width="5.2" height="1.87" fill="#8e8e8e"/>
<rect x="450.6" y="219.05" width="5.2" height="2.81" fill="#c4c4c4"/>
<rect x="450.6" y="221.85" width="5.2" height="1.87" fill="#444"/>
<rect x="450.6" y="223.73" width="5.2" height="1.87" fill="#111"/>
<rect x="450.6" y="227.47" width="5.2" height="1.87" fill="#111"/>
<rect x="450.6" y="229.34" width="5.2" height="1.87" fill="#444"/>
<rect x="450.6" y="231.21" width="5.2" height="1.87" fill="#8e8e8e"/>
<rect x="450.6" y="236.82" width="5.2" height="1.87" fill="#444"/>
<rect x="450.6" y="239.63" width="5.2" height="1.87" fill="#444"/>
</g>
<rect x="451" y="212.9" width="4.4" height="28.2" rx="0.8" fill="none" stroke="#111" stroke-width="0.8"/>
<text x="453.8" y="249.8" class="lb">5</text>
<clipPath id="c69"><rect x="275" y="250.7" width="5.2" height="27.5" rx="1.0"/></clipPath>
<g clip-path="url(#c69)">
<rect x="275" y="250.7" width="5.2" height="27.5" fill="#fff"/>
<rect x="275" y="250.7" width="5.2" height="2.04" fill="#111"/>
<rect x="275" y="253.76" width="5.2" height="2.04" fill="#111"/>
<rect x="275" y="256.81" width="5.2" height="1.02" fill="#8e8e8e"/>
<rect x="275" y="259.87" width="5.2" height="1.02" fill="#111"/>
<rect x="275" y="260.89" width="5.2" height="2.04" fill="#8e8e8e"/>
<rect x="275" y="262.92" width="5.2" height="2.04" fill="#c4c4c4"/>
<rect x="275" y="267" width="5.2" height="2.04" fill="#111"/>
<rect x="275" y="269.03" width="5.2" height="1.02" fill="#8e8e8e"/>
<rect x="275" y="272.09" width="5.2" height="2.04" fill="#8e8e8e"/>
<rect x="275" y="274.13" width="5.2" height="3.06" fill="#c4c4c4"/>
<rect x="275" y="277.18" width="5.2" height="1.02" fill="#444"/>
</g>
<rect x="275.4" y="251.1" width="4.4" height="26.7" rx="0.8" fill="none" stroke="#111" stroke-width="0.8"/>
<text x="278.2" y="286.2" class="lb">6</text>
<clipPath id="c70"><rect x="319.1" y="251.4" width="5.2" height="26.8" rx="1.0"/></clipPath>
<g clip-path="url(#c70)">
<rect x="319.1" y="251.4" width="5.2" height="26.8" fill="#fff"/>
<rect x="319.1" y="251.4" width="5.2" height="1.91" fill="#111"/>
<rect x="319.1" y="255.23" width="5.2" height="0.96" fill="#8e8e8e"/>
<rect x="319.1" y="257.14" width="5.2" height="3.83" fill="#8e8e8e"/>
<rect x="319.1" y="261.93" width="5.2" height="1.91" fill="#111"/>
<rect x="319.1" y="263.84" width="5.2" height="2.87" fill="#8e8e8e"/>
<rect x="319.1" y="266.71" width="5.2" height="4.79" fill="#444"/>
<rect x="319.1" y="273.41" width="5.2" height="1.91" fill="#444"/>
<rect x="319.1" y="277.24" width="5.2" height="0.96" fill="#444"/>
</g>
<rect x="319.5" y="251.8" width="4.4" height="26" rx="0.8" fill="none" stroke="#111" stroke-width="0.8"/>
<text x="322.3" y="286.2" class="lb">7</text>
<rect x="367.7" y="254.2" width="19.3" height="24" fill="#2e6b43"/>
<rect x="369" y="254.2" width="0.9" height="24" fill="#5e966c"/>
<rect x="370" y="254.2" width="1" height="24" fill="#0c421c"/>
<rect x="371" y="254.2" width="0.9" height="24" fill="#5e966c"/>
<rect x="373" y="254.2" width="1" height="24" fill="#0c421c"/>
<rect x="373" y="254.2" width="0.9" height="24" fill="#5e966c"/>
<rect x="375" y="254.2" width="1" height="24" fill="#0c421c"/>
<rect x="376" y="254.2" width="0.9" height="24" fill="#5e966c"/>
<rect x="377" y="254.2" width="1" height="24" fill="#0c421c"/>
<rect x="378" y="254.2" width="0.9" height="24" fill="#5e966c"/>
<rect x="380" y="254.2" width="1" height="24" fill="#0c421c"/>
<rect x="381" y="254.2" width="0.9" height="24" fill="#5e966c"/>
<rect x="382" y="254.2" width="1" height="24" fill="#0c421c"/>
<rect x="383" y="254.2" width="0.9" height="24" fill="#5e966c"/>
<rect x="385" y="254.2" width="1" height="24" fill="#0c421c"/>
<rect x="385" y="254.2" width="0.9" height="24" fill="#5e966c"/>
<rect x="368.1" y="254.6" width="18.5" height="23.2" fill="none" stroke="#141414" stroke-width="0.8"/>
<clipPath id="c71"><rect x="362.9" y="254.2" width="5.2" height="24" rx="1.0"/></clipPath>
<g clip-path="url(#c71)">
<rect x="362.9" y="254.2" width="5.2" height="24" fill="#fff"/>
<rect x="362.9" y="254.2" width="5.2" height="3.13" fill="#111"/>
<rect x="362.9" y="259.42" width="5.2" height="1.04" fill="#8e8e8e"/>
<rect x="362.9" y="262.55" width="5.2" height="1.04" fill="#8e8e8e"/>
<rect x="362.9" y="263.59" width="5.2" height="2.09" fill="#111"/>
<rect x="362.9" y="268.81" width="5.2" height="1.04" fill="#8e8e8e"/>
<rect x="362.9" y="271.94" width="5.2" height="2.09" fill="#111"/>
<rect x="362.9" y="277.16" width="5.2" height="1.04" fill="#444"/>
</g>
<rect x="363.3" y="254.6" width="4.4" height="23.2" rx="0.8" fill="none" stroke="#111" stroke-width="0.8"/>
<text x="366.1" y="286.2" class="lb">8</text>
<clipPath id="c72"><rect x="406.9" y="253.6" width="5.2" height="24.6" rx="1.0"/></clipPath>
<g clip-path="url(#c72)">
<rect x="406.9" y="253.6" width="5.2" height="24.6" fill="#fff"/>
<rect x="406.9" y="253.6" width="5.2" height="3.07" fill="#111"/>
<rect x="406.9" y="256.68" width="5.2" height="1.02" fill="#444"/>
<rect x="406.9" y="258.73" width="5.2" height="1.02" fill="#444"/>
<rect x="406.9" y="259.75" width="5.2" height="2.05" fill="#8e8e8e"/>
<rect x="406.9" y="263.85" width="5.2" height="2.05" fill="#8e8e8e"/>
<rect x="406.9" y="268.98" width="5.2" height="2.05" fill="#8e8e8e"/>
<rect x="406.9" y="271.02" width="5.2" height="2.05" fill="#111"/>
<rect x="406.9" y="274.1" width="5.2" height="1.02" fill="#444"/>
<rect x="406.9" y="277.18" width="5.2" height="1.02" fill="#444"/>
</g>
<rect x="407.3" y="254" width="4.4" height="23.8" rx="0.8" fill="none" stroke="#111" stroke-width="0.8"/>
<text x="410.1" y="286.2" class="lb">9</text>
<rect x="455.4" y="255" width="2.6" height="23.2" fill="#2e6b43"/>
<rect x="456" y="255" width="0.9" height="23.2" fill="#5e966c"/>
<rect x="455.8" y="255.4" width="1.8" height="22.4" fill="none" stroke="#141414" stroke-width="0.8"/>
<clipPath id="c73"><rect x="450.6" y="255" width="5.2" height="23.2" rx="1.0"/></clipPath>
<g clip-path="url(#c73)">
<rect x="450.6" y="255" width="5.2" height="23.2" fill="#fff"/>
<rect x="450.6" y="255" width="5.2" height="2.78" fill="#111"/>
<rect x="450.6" y="259.64" width="5.2" height="0.93" fill="#111"/>
<rect x="450.6" y="262.42" width="5.2" height="0.93" fill="#111"/>
<rect x="450.6" y="265.21" width="5.2" height="0.93" fill="#111"/>
<rect x="450.6" y="267.99" width="5.2" height="0.93" fill="#111"/>
<rect x="450.6" y="270.78" width="5.2" height="0.93" fill="#111"/>
<rect x="450.6" y="273.56" width="5.2" height="0.93" fill="#111"/>
<rect x="450.6" y="276.34" width="5.2" height="1.86" fill="#111"/>
</g>
<rect x="451" y="255.4" width="4.4" height="22.4" rx="0.8" fill="none" stroke="#111" stroke-width="0.8"/>
<text x="453.8" y="286.2" class="lb">10</text>
<clipPath id="c74"><rect x="275" y="287.9" width="5.2" height="22.3" rx="1.0"/></clipPath>
<g clip-path="url(#c74)">
<rect x="275" y="287.9" width="5.2" height="22.3" fill="#fff"/>
<rect x="275" y="287.9" width="5.2" height="3.04" fill="#111"/>
<rect x="275" y="291.95" width="5.2" height="2.03" fill="#111"/>
<rect x="275" y="295" width="5.2" height="2.03" fill="#111"/>
<rect x="275" y="300.06" width="5.2" height="2.03" fill="#8e8e8e"/>
<rect x="275" y="302.09" width="5.2" height="2.03" fill="#c4c4c4"/>
<rect x="275" y="305.13" width="5.2" height="1.01" fill="#111"/>
<rect x="275" y="307.16" width="5.2" height="2.03" fill="#8e8e8e"/>
<rect x="275" y="309.19" width="5.2" height="1.01" fill="#c4c4c4"/>
</g>
<rect x="275.4" y="288.3" width="4.4" height="21.5" rx="0.8" fill="none" stroke="#111" stroke-width="0.8"/>
<text x="278.2" y="318.2" class="lb">11</text>
<clipPath id="c75"><rect x="319.1" y="287.2" width="5.2" height="23" rx="1.0"/></clipPath>
<g clip-path="url(#c75)">
<rect x="319.1" y="287.2" width="5.2" height="23" fill="#fff"/>
<rect x="319.1" y="287.2" width="5.2" height="1.92" fill="#111"/>
<rect x="319.1" y="289.12" width="5.2" height="0.96" fill="#8e8e8e"/>
<rect x="319.1" y="290.07" width="5.2" height="1.92" fill="#c4c4c4"/>
<rect x="319.1" y="295.82" width="5.2" height="1.92" fill="#111"/>
<rect x="319.1" y="297.74" width="5.2" height="0.96" fill="#8e8e8e"/>
<rect x="319.1" y="298.7" width="5.2" height="1.92" fill="#111"/>
<rect x="319.1" y="300.62" width="5.2" height="1.92" fill="#8e8e8e"/>
<rect x="319.1" y="304.45" width="5.2" height="1.92" fill="#111"/>
<rect x="319.1" y="309.24" width="5.2" height="0.96" fill="#444"/>
</g>
<rect x="319.5" y="287.6" width="4.4" height="22.2" rx="0.8" fill="none" stroke="#111" stroke-width="0.8"/>
<text x="322.3" y="318.2" class="lb">12</text>
<clipPath id="c76"><rect x="362.9" y="288.5" width="5.2" height="21.7" rx="1.0"/></clipPath>
<g clip-path="url(#c76)">
<rect x="362.9" y="288.5" width="5.2" height="21.7" fill="#fff"/>
<rect x="362.9" y="288.5" width="5.2" height="2.96" fill="#111"/>
<rect x="362.9" y="292.45" width="5.2" height="2.96" fill="#c4c4c4"/>
<rect x="362.9" y="295.4" width="5.2" height="2.96" fill="#8e8e8e"/>
<rect x="362.9" y="301.32" width="5.2" height="1.97" fill="#8e8e8e"/>
<rect x="362.9" y="303.3" width="5.2" height="1.97" fill="#111"/>
<rect x="362.9" y="309.21" width="5.2" height="0.99" fill="#444"/>
</g>
<rect x="363.3" y="288.9" width="4.4" height="20.9" rx="0.8" fill="none" stroke="#111" stroke-width="0.8"/>
<text x="366.1" y="318.2" class="lb">13</text>
<clipPath id="c77"><rect x="406.9" y="289" width="5.2" height="21.2" rx="1.0"/></clipPath>
<g clip-path="url(#c77)">
<rect x="406.9" y="289" width="5.2" height="21.2" fill="#fff"/>
<rect x="406.9" y="289" width="5.2" height="2.02" fill="#111"/>
<rect x="406.9" y="292.03" width="5.2" height="2.02" fill="#111"/>
<rect x="406.9" y="298.09" width="5.2" height="2.02" fill="#8e8e8e"/>
<rect x="406.9" y="300.1" width="5.2" height="2.02" fill="#c4c4c4"/>
<rect x="406.9" y="302.12" width="5.2" height="1.01" fill="#444"/>
<rect x="406.9" y="305.15" width="5.2" height="3.03" fill="#111"/>
<rect x="406.9" y="308.18" width="5.2" height="1.01" fill="#8e8e8e"/>
<rect x="406.9" y="309.19" width="5.2" height="1.01" fill="#444"/>
</g>
<rect x="407.3" y="289.4" width="4.4" height="20.4" rx="0.8" fill="none" stroke="#111" stroke-width="0.8"/>
<text x="410.1" y="318.2" class="lb">14</text>
<rect x="455.4" y="288.6" width="5.4" height="21.6" fill="#2e6b43"/>
<rect x="456" y="288.6" width="0.9" height="21.6" fill="#5e966c"/>
<rect x="458" y="288.6" width="1" height="21.6" fill="#0c421c"/>
<rect x="459" y="288.6" width="0.9" height="21.6" fill="#5e966c"/>
<rect x="455.8" y="289" width="4.6" height="20.8" fill="none" stroke="#141414" stroke-width="0.8"/>
<clipPath id="c78"><rect x="450.6" y="288.6" width="5.2" height="21.6" rx="1.0"/></clipPath>
<g clip-path="url(#c78)">
<rect x="450.6" y="288.6" width="5.2" height="21.6" fill="#fff"/>
<rect x="450.6" y="288.6" width="5.2" height="2.06" fill="#111"/>
<rect x="450.6" y="294.77" width="5.2" height="2.06" fill="#111"/>
<rect x="450.6" y="299.91" width="5.2" height="1.03" fill="#111"/>
<rect x="450.6" y="303" width="5.2" height="2.06" fill="#111"/>
<rect x="450.6" y="307.11" width="5.2" height="3.09" fill="#444"/>
</g>
<rect x="451" y="289" width="4.4" height="20.8" rx="0.8" fill="none" stroke="#111" stroke-width="0.8"/>
<text x="453.8" y="318.2" class="lb">15</text>
<clipPath id="c79"><rect x="275" y="325.4" width="5.2" height="19.6" rx="1.0"/></clipPath>
<g clip-path="url(#c79)">
<rect x="275" y="325.4" width="5.2" height="19.6" fill="#fff"/>
<rect x="275" y="325.4" width="5.2" height="3.09" fill="#111"/>
<rect x="275" y="328.49" width="5.2" height="1.03" fill="#c4c4c4"/>
<rect x="275" y="332.62" width="5.2" height="1.03" fill="#8e8e8e"/>
<rect x="275" y="333.65" width="5.2" height="2.06" fill="#444"/>
<rect x="275" y="337.78" width="5.2" height="1.03" fill="#8e8e8e"/>
<rect x="275" y="338.81" width="5.2" height="2.06" fill="#c4c4c4"/>
<rect x="275" y="340.87" width="5.2" height="1.03" fill="#8e8e8e"/>
<rect x="275" y="341.91" width="5.2" height="2.06" fill="#111"/>
<rect x="275" y="343.97" width="5.2" height="1.03" fill="#8e8e8e"/>
</g>
<rect x="275.4" y="325.8" width="4.4" height="18.8" rx="0.8" fill="none" stroke="#111" stroke-width="0.8"/>
<text x="278.2" y="353.3" class="lb">16</text>
<clipPath id="c80"><rect x="319.1" y="326.3" width="5.2" height="18.7" rx="1.0"/></clipPath>
<g clip-path="url(#c80)">
<rect x="319.1" y="326.3" width="5.2" height="18.7" fill="#fff"/>
<rect x="319.1" y="326.3" width="5.2" height="3.12" fill="#111"/>
<rect x="319.1" y="330.46" width="5.2" height="2.08" fill="#8e8e8e"/>
<rect x="319.1" y="334.61" width="5.2" height="2.08" fill="#8e8e8e"/>
<rect x="319.1" y="336.69" width="5.2" height="1.04" fill="#c4c4c4"/>
<rect x="319.1" y="337.73" width="5.2" height="2.08" fill="#111"/>
<rect x="319.1" y="340.84" width="5.2" height="1.04" fill="#111"/>
<rect x="319.1" y="343.96" width="5.2" height="1.04" fill="#444"/>
</g>
<rect x="319.5" y="326.7" width="4.4" height="17.9" rx="0.8" fill="none" stroke="#111" stroke-width="0.8"/>
<text x="322.3" y="353.3" class="lb">17</text>
<clipPath id="c81"><rect x="362.9" y="326.2" width="5.2" height="18.8" rx="1.0"/></clipPath>
<g clip-path="url(#c81)">
<rect x="362.9" y="326.2" width="5.2" height="18.8" fill="#fff"/>
<rect x="362.9" y="326.2" width="5.2" height="3.13" fill="#111"/>
<rect x="362.9" y="331.42" width="5.2" height="2.09" fill="#8e8e8e"/>
<rect x="362.9" y="333.51" width="5.2" height="2.09" fill="#111"/>
<rect x="362.9" y="337.69" width="5.2" height="2.09" fill="#111"/>
<rect x="362.9" y="341.87" width="5.2" height="1.04" fill="#111"/>
<rect x="362.9" y="343.96" width="5.2" height="1.04" fill="#444"/>
</g>
<rect x="363.3" y="326.6" width="4.4" height="18" rx="0.8" fill="none" stroke="#111" stroke-width="0.8"/>
<text x="366.1" y="353.3" class="lb">18</text>
<clipPath id="c82"><rect x="406.9" y="329.8" width="5.2" height="15.2" rx="1.0"/></clipPath>
<g clip-path="url(#c82)">
<rect x="406.9" y="329.8" width="5.2" height="15.2" fill="#fff"/>
<rect x="406.9" y="329.8" width="5.2" height="2.85" fill="#111"/>
<rect x="406.9" y="334.55" width="5.2" height="1.9" fill="#c4c4c4"/>
<rect x="406.9" y="336.45" width="5.2" height="2.85" fill="#8e8e8e"/>
<rect x="406.9" y="339.3" width="5.2" height="1.9" fill="#c4c4c4"/>
<rect x="406.9" y="343.1" width="5.2" height="0.95" fill="#8e8e8e"/>
<rect x="406.9" y="344.05" width="5.2" height="0.95" fill="#444"/>
</g>
<rect x="407.3" y="330.2" width="4.4" height="14.4" rx="0.8" fill="none" stroke="#111" stroke-width="0.8"/>
<text x="410.1" y="353.3" class="lb">19</text>
<rect x="440.7" y="318.5" width="10.3" height="26.5" fill="#d99db5"/>
<rect x="442" y="318.5" width="0.9" height="26.5" fill="#f6cfdd"/>
<rect x="443" y="318.5" width="1" height="26.5" fill="#874763"/>
<rect x="444" y="318.5" width="0.9" height="26.5" fill="#f6cfdd"/>
<rect x="446" y="318.5" width="1" height="26.5" fill="#874763"/>
<rect x="447" y="318.5" width="0.9" height="26.5" fill="#f6cfdd"/>
<rect x="448" y="318.5" width="1" height="26.5" fill="#874763"/>
<rect x="449" y="318.5" width="0.9" height="26.5" fill="#f6cfdd"/>
<rect x="441.1" y="318.9" width="9.5" height="25.7" fill="none" stroke="#4a2a38" stroke-width="0.8"/>
<clipPath id="c83"><rect x="450.6" y="318.5" width="5.2" height="26.5" rx="1.0"/></clipPath>
<g clip-path="url(#c83)">
<rect x="450.6" y="318.5" width="5.2" height="26.5" fill="#fff"/>
<rect x="450.6" y="318.5" width="5.2" height="2.65" fill="#111"/>
<rect x="450.6" y="323.8" width="5.2" height="1.77" fill="#8e8e8e"/>
<rect x="450.6" y="327.33" width="5.2" height="1.77" fill="#8e8e8e"/>
<rect x="450.6" y="329.1" width="5.2" height="1.77" fill="#c4c4c4"/>
<rect x="450.6" y="331.75" width="5.2" height="2.65" fill="#111"/>
<rect x="450.6" y="336.17" width="5.2" height="1.77" fill="#111"/>
<rect x="450.6" y="339.7" width="5.2" height="1.77" fill="#444"/>
<rect x="450.6" y="343.23" width="5.2" height="1.77" fill="#444"/>
</g>
<rect x="451" y="318.9" width="4.4" height="25.7" rx="0.8" fill="none" stroke="#111" stroke-width="0.8"/>
<text x="453.8" y="352.7" class="lb">X</text>
<clipPath id="c84"><rect x="494" y="328.8" width="5.2" height="15.5" rx="1.0"/></clipPath>
<g clip-path="url(#c84)">
<rect x="494" y="328.8" width="5.2" height="15.5" fill="#fff"/>
<rect x="494" y="328.8" width="5.2" height="0.97" fill="#444"/>
<rect x="494" y="329.77" width="5.2" height="1.94" fill="#c4c4c4"/>
<rect x="494" y="331.71" width="5.2" height="1.94" fill="#444"/>
<rect x="494" y="333.64" width="5.2" height="1.94" fill="#c4c4c4"/>
<rect x="494" y="335.58" width="5.2" height="1.94" fill="#444"/>
<rect x="494" y="337.52" width="5.2" height="0.97" fill="#c4c4c4"/>
<rect x="494" y="338.49" width="5.2" height="1.94" fill="#444"/>
<rect x="494" y="340.43" width="5.2" height="0.97" fill="#8e8e8e"/>
<rect x="494" y="341.39" width="5.2" height="0.97" fill="#c4c4c4"/>
<rect x="494" y="342.36" width="5.2" height="0.97" fill="#8e8e8e"/>
<rect x="494" y="343.33" width="5.2" height="0.97" fill="#444"/>
</g>
<rect x="494.4" y="329.2" width="4.4" height="14.7" rx="0.8" fill="none" stroke="#111" stroke-width="0.8"/>
<text x="496.9" y="352.7" class="lb">Y</text>
<rect x="220.6" y="28.4" width="3.2" height="15.5" fill="#3d7253" stroke="#111" stroke-width="0.8"/>
<rect x="220.6" y="48.5" width="3.2" height="15.6" fill="#e0adc1" stroke="#3a2a30" stroke-width="0.8"/>
<text x="229.1" y="40.5" class="lg">Gain</text>
<text x="230.3" y="60" class="lg">Loss</text>
</svg>
</body></html>
